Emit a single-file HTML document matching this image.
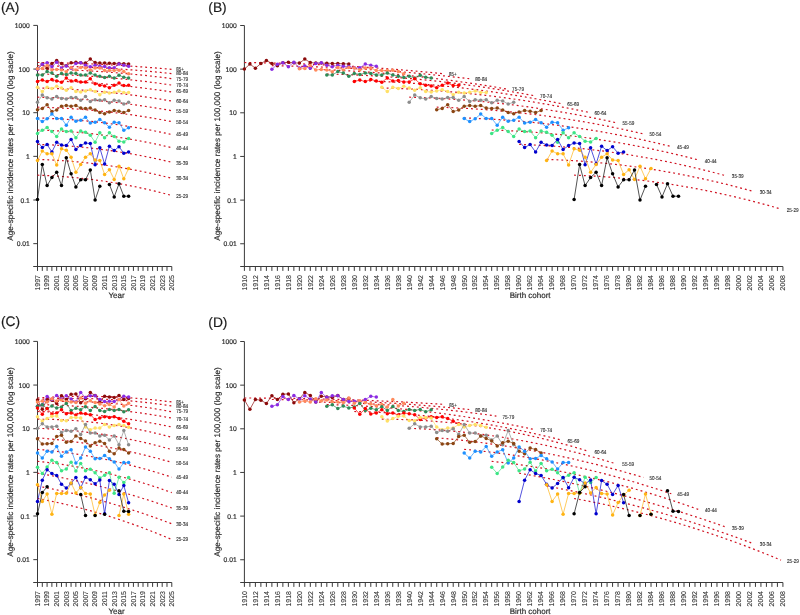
<!DOCTYPE html><html><head><meta charset="utf-8"><style>html,body{margin:0;padding:0;background:#fff;}svg{display:block;will-change:transform;} text{stroke:#2a2a2a;stroke-width:0.18px;text-rendering:geometricPrecision;}</style></head><body>
<svg width="800" height="615" viewBox="0 0 800 615" font-family='"Liberation Sans", sans-serif'>
<rect width="800" height="615" fill="#fff"/>
<text x="1" y="11.6" font-size="13.8" fill="#1a1a1a">(A)</text>
<path d="M37.5 25.4V266.5" stroke="#3a3a3a" stroke-width="1" fill="none"/>
<path d="M33.3 25.40H37.5" stroke="#3a3a3a" stroke-width="1"/>
<text x="29.8" y="27.90" font-size="6.75" text-anchor="end" fill="#2a2a2a">1000</text>
<path d="M33.3 69.05H37.5" stroke="#3a3a3a" stroke-width="1"/>
<text x="29.8" y="71.55" font-size="6.75" text-anchor="end" fill="#2a2a2a">100</text>
<path d="M33.3 112.70H37.5" stroke="#3a3a3a" stroke-width="1"/>
<text x="29.8" y="115.20" font-size="6.75" text-anchor="end" fill="#2a2a2a">10</text>
<path d="M33.3 156.35H37.5" stroke="#3a3a3a" stroke-width="1"/>
<text x="29.8" y="158.85" font-size="6.75" text-anchor="end" fill="#2a2a2a">1</text>
<path d="M33.3 200.00H37.5" stroke="#3a3a3a" stroke-width="1"/>
<text x="29.8" y="202.50" font-size="6.75" text-anchor="end" fill="#2a2a2a">0.1</text>
<path d="M33.3 243.65H37.5" stroke="#3a3a3a" stroke-width="1"/>
<text x="29.8" y="246.15" font-size="6.75" text-anchor="end" fill="#2a2a2a">0.01</text>
<path d="M33.2 266.5H171.79" stroke="#3a3a3a" stroke-width="1" fill="none"/>
<path d="M37.50 266.5v4.4M42.30 266.5v4.4M47.09 266.5v4.4M51.89 266.5v4.4M56.68 266.5v4.4M61.48 266.5v4.4M66.28 266.5v4.4M71.07 266.5v4.4M75.87 266.5v4.4M80.66 266.5v4.4M85.46 266.5v4.4M90.26 266.5v4.4M95.05 266.5v4.4M99.85 266.5v4.4M104.64 266.5v4.4M109.44 266.5v4.4M114.24 266.5v4.4M119.03 266.5v4.4M123.83 266.5v4.4M128.62 266.5v4.4M133.42 266.5v4.4M138.22 266.5v4.4M143.01 266.5v4.4M147.81 266.5v4.4M152.60 266.5v4.4M157.40 266.5v4.4M162.20 266.5v4.4M166.99 266.5v4.4M171.79 266.5v4.4" stroke="#3a3a3a" stroke-width="1" fill="none"/>
<text transform="translate(39.80,275.0) rotate(-90)" font-size="7.0" text-anchor="end" fill="#2a2a2a" style="stroke-width:0.08px">1997</text>
<text transform="translate(49.39,275.0) rotate(-90)" font-size="7.0" text-anchor="end" fill="#2a2a2a" style="stroke-width:0.08px">1999</text>
<text transform="translate(58.98,275.0) rotate(-90)" font-size="7.0" text-anchor="end" fill="#2a2a2a" style="stroke-width:0.08px">2001</text>
<text transform="translate(68.58,275.0) rotate(-90)" font-size="7.0" text-anchor="end" fill="#2a2a2a" style="stroke-width:0.08px">2003</text>
<text transform="translate(78.17,275.0) rotate(-90)" font-size="7.0" text-anchor="end" fill="#2a2a2a" style="stroke-width:0.08px">2005</text>
<text transform="translate(87.76,275.0) rotate(-90)" font-size="7.0" text-anchor="end" fill="#2a2a2a" style="stroke-width:0.08px">2007</text>
<text transform="translate(97.35,275.0) rotate(-90)" font-size="7.0" text-anchor="end" fill="#2a2a2a" style="stroke-width:0.08px">2009</text>
<text transform="translate(106.94,275.0) rotate(-90)" font-size="7.0" text-anchor="end" fill="#2a2a2a" style="stroke-width:0.08px">2011</text>
<text transform="translate(116.54,275.0) rotate(-90)" font-size="7.0" text-anchor="end" fill="#2a2a2a" style="stroke-width:0.08px">2013</text>
<text transform="translate(126.13,275.0) rotate(-90)" font-size="7.0" text-anchor="end" fill="#2a2a2a" style="stroke-width:0.08px">2015</text>
<text transform="translate(135.72,275.0) rotate(-90)" font-size="7.0" text-anchor="end" fill="#2a2a2a" style="stroke-width:0.08px">2017</text>
<text transform="translate(145.31,275.0) rotate(-90)" font-size="7.0" text-anchor="end" fill="#2a2a2a" style="stroke-width:0.08px">2019</text>
<text transform="translate(154.90,275.0) rotate(-90)" font-size="7.0" text-anchor="end" fill="#2a2a2a" style="stroke-width:0.08px">2021</text>
<text transform="translate(164.50,275.0) rotate(-90)" font-size="7.0" text-anchor="end" fill="#2a2a2a" style="stroke-width:0.08px">2023</text>
<text transform="translate(174.09,275.0) rotate(-90)" font-size="7.0" text-anchor="end" fill="#2a2a2a" style="stroke-width:0.08px">2025</text>
<text transform="translate(12.600000000000001,145.95) rotate(-90)" font-size="8.1" text-anchor="middle" textLength="189.5" lengthAdjust="spacing" fill="#2a2a2a">Age-specific incidence rates per 100,000 (log sacle)</text>
<text x="108.5" y="297.5" font-size="8" fill="#2a2a2a">Year</text>
<text x="208.3" y="11.6" font-size="13.8" fill="#1a1a1a">(B)</text>
<path d="M244.4 25.5V266.5" stroke="#3a3a3a" stroke-width="1" fill="none"/>
<path d="M240.20000000000002 25.50H244.4" stroke="#3a3a3a" stroke-width="1"/>
<text x="236.70000000000002" y="28.00" font-size="6.75" text-anchor="end" fill="#2a2a2a">1000</text>
<path d="M240.20000000000002 69.15H244.4" stroke="#3a3a3a" stroke-width="1"/>
<text x="236.70000000000002" y="71.65" font-size="6.75" text-anchor="end" fill="#2a2a2a">100</text>
<path d="M240.20000000000002 112.80H244.4" stroke="#3a3a3a" stroke-width="1"/>
<text x="236.70000000000002" y="115.30" font-size="6.75" text-anchor="end" fill="#2a2a2a">10</text>
<path d="M240.20000000000002 156.45H244.4" stroke="#3a3a3a" stroke-width="1"/>
<text x="236.70000000000002" y="158.95" font-size="6.75" text-anchor="end" fill="#2a2a2a">1</text>
<path d="M240.20000000000002 200.10H244.4" stroke="#3a3a3a" stroke-width="1"/>
<text x="236.70000000000002" y="202.60" font-size="6.75" text-anchor="end" fill="#2a2a2a">0.1</text>
<path d="M240.20000000000002 243.75H244.4" stroke="#3a3a3a" stroke-width="1"/>
<text x="236.70000000000002" y="246.25" font-size="6.75" text-anchor="end" fill="#2a2a2a">0.01</text>
<path d="M240.2 266.5H782.91" stroke="#3a3a3a" stroke-width="1" fill="none"/>
<path d="M244.40 266.5v4.4M249.90 266.5v4.4M255.39 266.5v4.4M260.88 266.5v4.4M266.38 266.5v4.4M271.88 266.5v4.4M277.37 266.5v4.4M282.87 266.5v4.4M288.36 266.5v4.4M293.86 266.5v4.4M299.35 266.5v4.4M304.85 266.5v4.4M310.34 266.5v4.4M315.84 266.5v4.4M321.33 266.5v4.4M326.82 266.5v4.4M332.32 266.5v4.4M337.81 266.5v4.4M343.31 266.5v4.4M348.81 266.5v4.4M354.30 266.5v4.4M359.80 266.5v4.4M365.29 266.5v4.4M370.79 266.5v4.4M376.28 266.5v4.4M381.77 266.5v4.4M387.27 266.5v4.4M392.76 266.5v4.4M398.26 266.5v4.4M403.75 266.5v4.4M409.25 266.5v4.4M414.75 266.5v4.4M420.24 266.5v4.4M425.74 266.5v4.4M431.23 266.5v4.4M436.73 266.5v4.4M442.22 266.5v4.4M447.72 266.5v4.4M453.21 266.5v4.4M458.71 266.5v4.4M464.20 266.5v4.4M469.70 266.5v4.4M475.19 266.5v4.4M480.69 266.5v4.4M486.18 266.5v4.4M491.68 266.5v4.4M497.17 266.5v4.4M502.66 266.5v4.4M508.16 266.5v4.4M513.65 266.5v4.4M519.15 266.5v4.4M524.64 266.5v4.4M530.14 266.5v4.4M535.63 266.5v4.4M541.13 266.5v4.4M546.62 266.5v4.4M552.12 266.5v4.4M557.62 266.5v4.4M563.11 266.5v4.4M568.61 266.5v4.4M574.10 266.5v4.4M579.60 266.5v4.4M585.09 266.5v4.4M590.59 266.5v4.4M596.08 266.5v4.4M601.58 266.5v4.4M607.07 266.5v4.4M612.57 266.5v4.4M618.06 266.5v4.4M623.56 266.5v4.4M629.05 266.5v4.4M634.54 266.5v4.4M640.04 266.5v4.4M645.53 266.5v4.4M651.03 266.5v4.4M656.52 266.5v4.4M662.02 266.5v4.4M667.51 266.5v4.4M673.01 266.5v4.4M678.50 266.5v4.4M684.00 266.5v4.4M689.50 266.5v4.4M694.99 266.5v4.4M700.49 266.5v4.4M705.98 266.5v4.4M711.48 266.5v4.4M716.97 266.5v4.4M722.47 266.5v4.4M727.96 266.5v4.4M733.46 266.5v4.4M738.95 266.5v4.4M744.45 266.5v4.4M749.94 266.5v4.4M755.44 266.5v4.4M760.93 266.5v4.4M766.42 266.5v4.4M771.92 266.5v4.4M777.41 266.5v4.4M782.91 266.5v4.4" stroke="#3a3a3a" stroke-width="1" fill="none"/>
<text transform="translate(246.70,275.0) rotate(-90)" font-size="7.0" text-anchor="end" fill="#2a2a2a" style="stroke-width:0.08px">1910</text>
<text transform="translate(257.69,275.0) rotate(-90)" font-size="7.0" text-anchor="end" fill="#2a2a2a" style="stroke-width:0.08px">1912</text>
<text transform="translate(268.68,275.0) rotate(-90)" font-size="7.0" text-anchor="end" fill="#2a2a2a" style="stroke-width:0.08px">1914</text>
<text transform="translate(279.67,275.0) rotate(-90)" font-size="7.0" text-anchor="end" fill="#2a2a2a" style="stroke-width:0.08px">1916</text>
<text transform="translate(290.66,275.0) rotate(-90)" font-size="7.0" text-anchor="end" fill="#2a2a2a" style="stroke-width:0.08px">1918</text>
<text transform="translate(301.65,275.0) rotate(-90)" font-size="7.0" text-anchor="end" fill="#2a2a2a" style="stroke-width:0.08px">1920</text>
<text transform="translate(312.64,275.0) rotate(-90)" font-size="7.0" text-anchor="end" fill="#2a2a2a" style="stroke-width:0.08px">1922</text>
<text transform="translate(323.63,275.0) rotate(-90)" font-size="7.0" text-anchor="end" fill="#2a2a2a" style="stroke-width:0.08px">1924</text>
<text transform="translate(334.62,275.0) rotate(-90)" font-size="7.0" text-anchor="end" fill="#2a2a2a" style="stroke-width:0.08px">1926</text>
<text transform="translate(345.61,275.0) rotate(-90)" font-size="7.0" text-anchor="end" fill="#2a2a2a" style="stroke-width:0.08px">1928</text>
<text transform="translate(356.60,275.0) rotate(-90)" font-size="7.0" text-anchor="end" fill="#2a2a2a" style="stroke-width:0.08px">1930</text>
<text transform="translate(367.59,275.0) rotate(-90)" font-size="7.0" text-anchor="end" fill="#2a2a2a" style="stroke-width:0.08px">1932</text>
<text transform="translate(378.58,275.0) rotate(-90)" font-size="7.0" text-anchor="end" fill="#2a2a2a" style="stroke-width:0.08px">1934</text>
<text transform="translate(389.57,275.0) rotate(-90)" font-size="7.0" text-anchor="end" fill="#2a2a2a" style="stroke-width:0.08px">1936</text>
<text transform="translate(400.56,275.0) rotate(-90)" font-size="7.0" text-anchor="end" fill="#2a2a2a" style="stroke-width:0.08px">1938</text>
<text transform="translate(411.55,275.0) rotate(-90)" font-size="7.0" text-anchor="end" fill="#2a2a2a" style="stroke-width:0.08px">1940</text>
<text transform="translate(422.54,275.0) rotate(-90)" font-size="7.0" text-anchor="end" fill="#2a2a2a" style="stroke-width:0.08px">1942</text>
<text transform="translate(433.53,275.0) rotate(-90)" font-size="7.0" text-anchor="end" fill="#2a2a2a" style="stroke-width:0.08px">1944</text>
<text transform="translate(444.52,275.0) rotate(-90)" font-size="7.0" text-anchor="end" fill="#2a2a2a" style="stroke-width:0.08px">1946</text>
<text transform="translate(455.51,275.0) rotate(-90)" font-size="7.0" text-anchor="end" fill="#2a2a2a" style="stroke-width:0.08px">1948</text>
<text transform="translate(466.50,275.0) rotate(-90)" font-size="7.0" text-anchor="end" fill="#2a2a2a" style="stroke-width:0.08px">1950</text>
<text transform="translate(477.49,275.0) rotate(-90)" font-size="7.0" text-anchor="end" fill="#2a2a2a" style="stroke-width:0.08px">1952</text>
<text transform="translate(488.48,275.0) rotate(-90)" font-size="7.0" text-anchor="end" fill="#2a2a2a" style="stroke-width:0.08px">1954</text>
<text transform="translate(499.47,275.0) rotate(-90)" font-size="7.0" text-anchor="end" fill="#2a2a2a" style="stroke-width:0.08px">1956</text>
<text transform="translate(510.46,275.0) rotate(-90)" font-size="7.0" text-anchor="end" fill="#2a2a2a" style="stroke-width:0.08px">1958</text>
<text transform="translate(521.45,275.0) rotate(-90)" font-size="7.0" text-anchor="end" fill="#2a2a2a" style="stroke-width:0.08px">1960</text>
<text transform="translate(532.44,275.0) rotate(-90)" font-size="7.0" text-anchor="end" fill="#2a2a2a" style="stroke-width:0.08px">1962</text>
<text transform="translate(543.43,275.0) rotate(-90)" font-size="7.0" text-anchor="end" fill="#2a2a2a" style="stroke-width:0.08px">1964</text>
<text transform="translate(554.42,275.0) rotate(-90)" font-size="7.0" text-anchor="end" fill="#2a2a2a" style="stroke-width:0.08px">1966</text>
<text transform="translate(565.41,275.0) rotate(-90)" font-size="7.0" text-anchor="end" fill="#2a2a2a" style="stroke-width:0.08px">1968</text>
<text transform="translate(576.40,275.0) rotate(-90)" font-size="7.0" text-anchor="end" fill="#2a2a2a" style="stroke-width:0.08px">1970</text>
<text transform="translate(587.39,275.0) rotate(-90)" font-size="7.0" text-anchor="end" fill="#2a2a2a" style="stroke-width:0.08px">1972</text>
<text transform="translate(598.38,275.0) rotate(-90)" font-size="7.0" text-anchor="end" fill="#2a2a2a" style="stroke-width:0.08px">1974</text>
<text transform="translate(609.37,275.0) rotate(-90)" font-size="7.0" text-anchor="end" fill="#2a2a2a" style="stroke-width:0.08px">1976</text>
<text transform="translate(620.36,275.0) rotate(-90)" font-size="7.0" text-anchor="end" fill="#2a2a2a" style="stroke-width:0.08px">1978</text>
<text transform="translate(631.35,275.0) rotate(-90)" font-size="7.0" text-anchor="end" fill="#2a2a2a" style="stroke-width:0.08px">1980</text>
<text transform="translate(642.34,275.0) rotate(-90)" font-size="7.0" text-anchor="end" fill="#2a2a2a" style="stroke-width:0.08px">1982</text>
<text transform="translate(653.33,275.0) rotate(-90)" font-size="7.0" text-anchor="end" fill="#2a2a2a" style="stroke-width:0.08px">1984</text>
<text transform="translate(664.32,275.0) rotate(-90)" font-size="7.0" text-anchor="end" fill="#2a2a2a" style="stroke-width:0.08px">1986</text>
<text transform="translate(675.31,275.0) rotate(-90)" font-size="7.0" text-anchor="end" fill="#2a2a2a" style="stroke-width:0.08px">1988</text>
<text transform="translate(686.30,275.0) rotate(-90)" font-size="7.0" text-anchor="end" fill="#2a2a2a" style="stroke-width:0.08px">1990</text>
<text transform="translate(697.29,275.0) rotate(-90)" font-size="7.0" text-anchor="end" fill="#2a2a2a" style="stroke-width:0.08px">1992</text>
<text transform="translate(708.28,275.0) rotate(-90)" font-size="7.0" text-anchor="end" fill="#2a2a2a" style="stroke-width:0.08px">1994</text>
<text transform="translate(719.27,275.0) rotate(-90)" font-size="7.0" text-anchor="end" fill="#2a2a2a" style="stroke-width:0.08px">1996</text>
<text transform="translate(730.26,275.0) rotate(-90)" font-size="7.0" text-anchor="end" fill="#2a2a2a" style="stroke-width:0.08px">1998</text>
<text transform="translate(741.25,275.0) rotate(-90)" font-size="7.0" text-anchor="end" fill="#2a2a2a" style="stroke-width:0.08px">2000</text>
<text transform="translate(752.24,275.0) rotate(-90)" font-size="7.0" text-anchor="end" fill="#2a2a2a" style="stroke-width:0.08px">2002</text>
<text transform="translate(763.23,275.0) rotate(-90)" font-size="7.0" text-anchor="end" fill="#2a2a2a" style="stroke-width:0.08px">2004</text>
<text transform="translate(774.22,275.0) rotate(-90)" font-size="7.0" text-anchor="end" fill="#2a2a2a" style="stroke-width:0.08px">2006</text>
<text transform="translate(785.21,275.0) rotate(-90)" font-size="7.0" text-anchor="end" fill="#2a2a2a" style="stroke-width:0.08px">2008</text>
<text transform="translate(219.5,146.00) rotate(-90)" font-size="8.1" text-anchor="middle" textLength="189.5" lengthAdjust="spacing" fill="#2a2a2a">Age-specific incidence rates per 100,000 (log scale)</text>
<text x="509.7" y="297.5" font-size="8" fill="#2a2a2a">Birth cohort</text>
<text x="1" y="326.3" font-size="13.8" fill="#1a1a1a">(C)</text>
<path d="M37.5 341.4V582.5" stroke="#3a3a3a" stroke-width="1" fill="none"/>
<path d="M33.3 341.40H37.5" stroke="#3a3a3a" stroke-width="1"/>
<text x="29.8" y="343.90" font-size="6.75" text-anchor="end" fill="#2a2a2a">1000</text>
<path d="M33.3 385.05H37.5" stroke="#3a3a3a" stroke-width="1"/>
<text x="29.8" y="387.55" font-size="6.75" text-anchor="end" fill="#2a2a2a">100</text>
<path d="M33.3 428.70H37.5" stroke="#3a3a3a" stroke-width="1"/>
<text x="29.8" y="431.20" font-size="6.75" text-anchor="end" fill="#2a2a2a">10</text>
<path d="M33.3 472.35H37.5" stroke="#3a3a3a" stroke-width="1"/>
<text x="29.8" y="474.85" font-size="6.75" text-anchor="end" fill="#2a2a2a">1</text>
<path d="M33.3 516.00H37.5" stroke="#3a3a3a" stroke-width="1"/>
<text x="29.8" y="518.50" font-size="6.75" text-anchor="end" fill="#2a2a2a">0.1</text>
<path d="M33.3 559.65H37.5" stroke="#3a3a3a" stroke-width="1"/>
<text x="29.8" y="562.15" font-size="6.75" text-anchor="end" fill="#2a2a2a">0.01</text>
<path d="M33.2 582.5H171.79" stroke="#3a3a3a" stroke-width="1" fill="none"/>
<path d="M37.50 582.5v4.4M42.30 582.5v4.4M47.09 582.5v4.4M51.89 582.5v4.4M56.68 582.5v4.4M61.48 582.5v4.4M66.28 582.5v4.4M71.07 582.5v4.4M75.87 582.5v4.4M80.66 582.5v4.4M85.46 582.5v4.4M90.26 582.5v4.4M95.05 582.5v4.4M99.85 582.5v4.4M104.64 582.5v4.4M109.44 582.5v4.4M114.24 582.5v4.4M119.03 582.5v4.4M123.83 582.5v4.4M128.62 582.5v4.4M133.42 582.5v4.4M138.22 582.5v4.4M143.01 582.5v4.4M147.81 582.5v4.4M152.60 582.5v4.4M157.40 582.5v4.4M162.20 582.5v4.4M166.99 582.5v4.4M171.79 582.5v4.4" stroke="#3a3a3a" stroke-width="1" fill="none"/>
<text transform="translate(39.80,591.0) rotate(-90)" font-size="7.0" text-anchor="end" fill="#2a2a2a" style="stroke-width:0.08px">1997</text>
<text transform="translate(49.39,591.0) rotate(-90)" font-size="7.0" text-anchor="end" fill="#2a2a2a" style="stroke-width:0.08px">1999</text>
<text transform="translate(58.98,591.0) rotate(-90)" font-size="7.0" text-anchor="end" fill="#2a2a2a" style="stroke-width:0.08px">2001</text>
<text transform="translate(68.58,591.0) rotate(-90)" font-size="7.0" text-anchor="end" fill="#2a2a2a" style="stroke-width:0.08px">2003</text>
<text transform="translate(78.17,591.0) rotate(-90)" font-size="7.0" text-anchor="end" fill="#2a2a2a" style="stroke-width:0.08px">2005</text>
<text transform="translate(87.76,591.0) rotate(-90)" font-size="7.0" text-anchor="end" fill="#2a2a2a" style="stroke-width:0.08px">2007</text>
<text transform="translate(97.35,591.0) rotate(-90)" font-size="7.0" text-anchor="end" fill="#2a2a2a" style="stroke-width:0.08px">2009</text>
<text transform="translate(106.94,591.0) rotate(-90)" font-size="7.0" text-anchor="end" fill="#2a2a2a" style="stroke-width:0.08px">2011</text>
<text transform="translate(116.54,591.0) rotate(-90)" font-size="7.0" text-anchor="end" fill="#2a2a2a" style="stroke-width:0.08px">2013</text>
<text transform="translate(126.13,591.0) rotate(-90)" font-size="7.0" text-anchor="end" fill="#2a2a2a" style="stroke-width:0.08px">2015</text>
<text transform="translate(135.72,591.0) rotate(-90)" font-size="7.0" text-anchor="end" fill="#2a2a2a" style="stroke-width:0.08px">2017</text>
<text transform="translate(145.31,591.0) rotate(-90)" font-size="7.0" text-anchor="end" fill="#2a2a2a" style="stroke-width:0.08px">2019</text>
<text transform="translate(154.90,591.0) rotate(-90)" font-size="7.0" text-anchor="end" fill="#2a2a2a" style="stroke-width:0.08px">2021</text>
<text transform="translate(164.50,591.0) rotate(-90)" font-size="7.0" text-anchor="end" fill="#2a2a2a" style="stroke-width:0.08px">2023</text>
<text transform="translate(174.09,591.0) rotate(-90)" font-size="7.0" text-anchor="end" fill="#2a2a2a" style="stroke-width:0.08px">2025</text>
<text transform="translate(12.600000000000001,461.95) rotate(-90)" font-size="8.1" text-anchor="middle" textLength="189.5" lengthAdjust="spacing" fill="#2a2a2a">Age-specific incidence rates per 100,000 (log scale)</text>
<text x="108.5" y="613.5" font-size="8" fill="#2a2a2a">Year</text>
<text x="208.3" y="326.5" font-size="13.8" fill="#1a1a1a">(D)</text>
<path d="M244.4 341.5V582.5" stroke="#3a3a3a" stroke-width="1" fill="none"/>
<path d="M240.20000000000002 341.50H244.4" stroke="#3a3a3a" stroke-width="1"/>
<text x="236.70000000000002" y="344.00" font-size="6.75" text-anchor="end" fill="#2a2a2a">1000</text>
<path d="M240.20000000000002 385.15H244.4" stroke="#3a3a3a" stroke-width="1"/>
<text x="236.70000000000002" y="387.65" font-size="6.75" text-anchor="end" fill="#2a2a2a">100</text>
<path d="M240.20000000000002 428.80H244.4" stroke="#3a3a3a" stroke-width="1"/>
<text x="236.70000000000002" y="431.30" font-size="6.75" text-anchor="end" fill="#2a2a2a">10</text>
<path d="M240.20000000000002 472.45H244.4" stroke="#3a3a3a" stroke-width="1"/>
<text x="236.70000000000002" y="474.95" font-size="6.75" text-anchor="end" fill="#2a2a2a">1</text>
<path d="M240.20000000000002 516.10H244.4" stroke="#3a3a3a" stroke-width="1"/>
<text x="236.70000000000002" y="518.60" font-size="6.75" text-anchor="end" fill="#2a2a2a">0.1</text>
<path d="M240.20000000000002 559.75H244.4" stroke="#3a3a3a" stroke-width="1"/>
<text x="236.70000000000002" y="562.25" font-size="6.75" text-anchor="end" fill="#2a2a2a">0.01</text>
<path d="M240.2 582.5H782.91" stroke="#3a3a3a" stroke-width="1" fill="none"/>
<path d="M244.40 582.5v4.4M249.90 582.5v4.4M255.39 582.5v4.4M260.88 582.5v4.4M266.38 582.5v4.4M271.88 582.5v4.4M277.37 582.5v4.4M282.87 582.5v4.4M288.36 582.5v4.4M293.86 582.5v4.4M299.35 582.5v4.4M304.85 582.5v4.4M310.34 582.5v4.4M315.84 582.5v4.4M321.33 582.5v4.4M326.82 582.5v4.4M332.32 582.5v4.4M337.81 582.5v4.4M343.31 582.5v4.4M348.81 582.5v4.4M354.30 582.5v4.4M359.80 582.5v4.4M365.29 582.5v4.4M370.79 582.5v4.4M376.28 582.5v4.4M381.77 582.5v4.4M387.27 582.5v4.4M392.76 582.5v4.4M398.26 582.5v4.4M403.75 582.5v4.4M409.25 582.5v4.4M414.75 582.5v4.4M420.24 582.5v4.4M425.74 582.5v4.4M431.23 582.5v4.4M436.73 582.5v4.4M442.22 582.5v4.4M447.72 582.5v4.4M453.21 582.5v4.4M458.71 582.5v4.4M464.20 582.5v4.4M469.70 582.5v4.4M475.19 582.5v4.4M480.69 582.5v4.4M486.18 582.5v4.4M491.68 582.5v4.4M497.17 582.5v4.4M502.66 582.5v4.4M508.16 582.5v4.4M513.65 582.5v4.4M519.15 582.5v4.4M524.64 582.5v4.4M530.14 582.5v4.4M535.63 582.5v4.4M541.13 582.5v4.4M546.62 582.5v4.4M552.12 582.5v4.4M557.62 582.5v4.4M563.11 582.5v4.4M568.61 582.5v4.4M574.10 582.5v4.4M579.60 582.5v4.4M585.09 582.5v4.4M590.59 582.5v4.4M596.08 582.5v4.4M601.58 582.5v4.4M607.07 582.5v4.4M612.57 582.5v4.4M618.06 582.5v4.4M623.56 582.5v4.4M629.05 582.5v4.4M634.54 582.5v4.4M640.04 582.5v4.4M645.53 582.5v4.4M651.03 582.5v4.4M656.52 582.5v4.4M662.02 582.5v4.4M667.51 582.5v4.4M673.01 582.5v4.4M678.50 582.5v4.4M684.00 582.5v4.4M689.50 582.5v4.4M694.99 582.5v4.4M700.49 582.5v4.4M705.98 582.5v4.4M711.48 582.5v4.4M716.97 582.5v4.4M722.47 582.5v4.4M727.96 582.5v4.4M733.46 582.5v4.4M738.95 582.5v4.4M744.45 582.5v4.4M749.94 582.5v4.4M755.44 582.5v4.4M760.93 582.5v4.4M766.42 582.5v4.4M771.92 582.5v4.4M777.41 582.5v4.4M782.91 582.5v4.4" stroke="#3a3a3a" stroke-width="1" fill="none"/>
<text transform="translate(246.70,591.0) rotate(-90)" font-size="7.0" text-anchor="end" fill="#2a2a2a" style="stroke-width:0.08px">1910</text>
<text transform="translate(257.69,591.0) rotate(-90)" font-size="7.0" text-anchor="end" fill="#2a2a2a" style="stroke-width:0.08px">1912</text>
<text transform="translate(268.68,591.0) rotate(-90)" font-size="7.0" text-anchor="end" fill="#2a2a2a" style="stroke-width:0.08px">1914</text>
<text transform="translate(279.67,591.0) rotate(-90)" font-size="7.0" text-anchor="end" fill="#2a2a2a" style="stroke-width:0.08px">1916</text>
<text transform="translate(290.66,591.0) rotate(-90)" font-size="7.0" text-anchor="end" fill="#2a2a2a" style="stroke-width:0.08px">1918</text>
<text transform="translate(301.65,591.0) rotate(-90)" font-size="7.0" text-anchor="end" fill="#2a2a2a" style="stroke-width:0.08px">1920</text>
<text transform="translate(312.64,591.0) rotate(-90)" font-size="7.0" text-anchor="end" fill="#2a2a2a" style="stroke-width:0.08px">1922</text>
<text transform="translate(323.63,591.0) rotate(-90)" font-size="7.0" text-anchor="end" fill="#2a2a2a" style="stroke-width:0.08px">1924</text>
<text transform="translate(334.62,591.0) rotate(-90)" font-size="7.0" text-anchor="end" fill="#2a2a2a" style="stroke-width:0.08px">1926</text>
<text transform="translate(345.61,591.0) rotate(-90)" font-size="7.0" text-anchor="end" fill="#2a2a2a" style="stroke-width:0.08px">1928</text>
<text transform="translate(356.60,591.0) rotate(-90)" font-size="7.0" text-anchor="end" fill="#2a2a2a" style="stroke-width:0.08px">1930</text>
<text transform="translate(367.59,591.0) rotate(-90)" font-size="7.0" text-anchor="end" fill="#2a2a2a" style="stroke-width:0.08px">1932</text>
<text transform="translate(378.58,591.0) rotate(-90)" font-size="7.0" text-anchor="end" fill="#2a2a2a" style="stroke-width:0.08px">1934</text>
<text transform="translate(389.57,591.0) rotate(-90)" font-size="7.0" text-anchor="end" fill="#2a2a2a" style="stroke-width:0.08px">1936</text>
<text transform="translate(400.56,591.0) rotate(-90)" font-size="7.0" text-anchor="end" fill="#2a2a2a" style="stroke-width:0.08px">1938</text>
<text transform="translate(411.55,591.0) rotate(-90)" font-size="7.0" text-anchor="end" fill="#2a2a2a" style="stroke-width:0.08px">1940</text>
<text transform="translate(422.54,591.0) rotate(-90)" font-size="7.0" text-anchor="end" fill="#2a2a2a" style="stroke-width:0.08px">1942</text>
<text transform="translate(433.53,591.0) rotate(-90)" font-size="7.0" text-anchor="end" fill="#2a2a2a" style="stroke-width:0.08px">1944</text>
<text transform="translate(444.52,591.0) rotate(-90)" font-size="7.0" text-anchor="end" fill="#2a2a2a" style="stroke-width:0.08px">1946</text>
<text transform="translate(455.51,591.0) rotate(-90)" font-size="7.0" text-anchor="end" fill="#2a2a2a" style="stroke-width:0.08px">1948</text>
<text transform="translate(466.50,591.0) rotate(-90)" font-size="7.0" text-anchor="end" fill="#2a2a2a" style="stroke-width:0.08px">1950</text>
<text transform="translate(477.49,591.0) rotate(-90)" font-size="7.0" text-anchor="end" fill="#2a2a2a" style="stroke-width:0.08px">1952</text>
<text transform="translate(488.48,591.0) rotate(-90)" font-size="7.0" text-anchor="end" fill="#2a2a2a" style="stroke-width:0.08px">1954</text>
<text transform="translate(499.47,591.0) rotate(-90)" font-size="7.0" text-anchor="end" fill="#2a2a2a" style="stroke-width:0.08px">1956</text>
<text transform="translate(510.46,591.0) rotate(-90)" font-size="7.0" text-anchor="end" fill="#2a2a2a" style="stroke-width:0.08px">1958</text>
<text transform="translate(521.45,591.0) rotate(-90)" font-size="7.0" text-anchor="end" fill="#2a2a2a" style="stroke-width:0.08px">1960</text>
<text transform="translate(532.44,591.0) rotate(-90)" font-size="7.0" text-anchor="end" fill="#2a2a2a" style="stroke-width:0.08px">1962</text>
<text transform="translate(543.43,591.0) rotate(-90)" font-size="7.0" text-anchor="end" fill="#2a2a2a" style="stroke-width:0.08px">1964</text>
<text transform="translate(554.42,591.0) rotate(-90)" font-size="7.0" text-anchor="end" fill="#2a2a2a" style="stroke-width:0.08px">1966</text>
<text transform="translate(565.41,591.0) rotate(-90)" font-size="7.0" text-anchor="end" fill="#2a2a2a" style="stroke-width:0.08px">1968</text>
<text transform="translate(576.40,591.0) rotate(-90)" font-size="7.0" text-anchor="end" fill="#2a2a2a" style="stroke-width:0.08px">1970</text>
<text transform="translate(587.39,591.0) rotate(-90)" font-size="7.0" text-anchor="end" fill="#2a2a2a" style="stroke-width:0.08px">1972</text>
<text transform="translate(598.38,591.0) rotate(-90)" font-size="7.0" text-anchor="end" fill="#2a2a2a" style="stroke-width:0.08px">1974</text>
<text transform="translate(609.37,591.0) rotate(-90)" font-size="7.0" text-anchor="end" fill="#2a2a2a" style="stroke-width:0.08px">1976</text>
<text transform="translate(620.36,591.0) rotate(-90)" font-size="7.0" text-anchor="end" fill="#2a2a2a" style="stroke-width:0.08px">1978</text>
<text transform="translate(631.35,591.0) rotate(-90)" font-size="7.0" text-anchor="end" fill="#2a2a2a" style="stroke-width:0.08px">1980</text>
<text transform="translate(642.34,591.0) rotate(-90)" font-size="7.0" text-anchor="end" fill="#2a2a2a" style="stroke-width:0.08px">1982</text>
<text transform="translate(653.33,591.0) rotate(-90)" font-size="7.0" text-anchor="end" fill="#2a2a2a" style="stroke-width:0.08px">1984</text>
<text transform="translate(664.32,591.0) rotate(-90)" font-size="7.0" text-anchor="end" fill="#2a2a2a" style="stroke-width:0.08px">1986</text>
<text transform="translate(675.31,591.0) rotate(-90)" font-size="7.0" text-anchor="end" fill="#2a2a2a" style="stroke-width:0.08px">1988</text>
<text transform="translate(686.30,591.0) rotate(-90)" font-size="7.0" text-anchor="end" fill="#2a2a2a" style="stroke-width:0.08px">1990</text>
<text transform="translate(697.29,591.0) rotate(-90)" font-size="7.0" text-anchor="end" fill="#2a2a2a" style="stroke-width:0.08px">1992</text>
<text transform="translate(708.28,591.0) rotate(-90)" font-size="7.0" text-anchor="end" fill="#2a2a2a" style="stroke-width:0.08px">1994</text>
<text transform="translate(719.27,591.0) rotate(-90)" font-size="7.0" text-anchor="end" fill="#2a2a2a" style="stroke-width:0.08px">1996</text>
<text transform="translate(730.26,591.0) rotate(-90)" font-size="7.0" text-anchor="end" fill="#2a2a2a" style="stroke-width:0.08px">1998</text>
<text transform="translate(741.25,591.0) rotate(-90)" font-size="7.0" text-anchor="end" fill="#2a2a2a" style="stroke-width:0.08px">2000</text>
<text transform="translate(752.24,591.0) rotate(-90)" font-size="7.0" text-anchor="end" fill="#2a2a2a" style="stroke-width:0.08px">2002</text>
<text transform="translate(763.23,591.0) rotate(-90)" font-size="7.0" text-anchor="end" fill="#2a2a2a" style="stroke-width:0.08px">2004</text>
<text transform="translate(774.22,591.0) rotate(-90)" font-size="7.0" text-anchor="end" fill="#2a2a2a" style="stroke-width:0.08px">2006</text>
<text transform="translate(785.21,591.0) rotate(-90)" font-size="7.0" text-anchor="end" fill="#2a2a2a" style="stroke-width:0.08px">2008</text>
<text transform="translate(219.5,462.00) rotate(-90)" font-size="8.1" text-anchor="middle" textLength="189.5" lengthAdjust="spacing" fill="#2a2a2a">Age-specific incidence rates per 100,000 (log scale)</text>
<text x="509.7" y="613.5" font-size="8" fill="#2a2a2a">Birth cohort</text>
<path d="M37.50 62.50L43.10 62.57L48.69 62.65L54.29 62.76L59.88 62.88L65.48 63.03L71.08 63.19L76.67 63.37L82.27 63.57L87.86 63.79L93.46 64.03L99.05 64.29L104.65 64.57L110.25 64.87L115.84 65.18L121.44 65.52L127.03 65.87L132.63 66.25L138.23 66.64L143.82 67.05L149.42 67.48L155.01 67.93L160.61 68.40L166.20 68.89L171.80 69.40" stroke="#d0101f" stroke-width="1.2" stroke-dasharray="1.9 3.0" fill="none"/>
<path d="M37.50 65.70L43.10 65.78L48.69 65.88L54.29 66.00L59.88 66.14L65.48 66.30L71.08 66.49L76.67 66.70L82.27 66.93L87.86 67.18L93.46 67.46L99.05 67.75L104.65 68.07L110.25 68.41L115.84 68.77L121.44 69.16L127.03 69.56L132.63 69.99L138.23 70.44L143.82 70.91L149.42 71.41L155.01 71.92L160.61 72.46L166.20 73.02L171.80 73.60" stroke="#d0101f" stroke-width="1.2" stroke-dasharray="1.9 3.0" fill="none"/>
<path d="M37.50 69.00L43.10 69.09L48.69 69.21L54.29 69.36L59.88 69.53L65.48 69.73L71.08 69.96L76.67 70.21L82.27 70.49L87.86 70.80L93.46 71.13L99.05 71.49L104.65 71.88L110.25 72.29L115.84 72.73L121.44 73.20L127.03 73.69L132.63 74.21L138.23 74.76L143.82 75.33L149.42 75.93L155.01 76.56L160.61 77.21L166.20 77.89L171.80 78.60" stroke="#d0101f" stroke-width="1.2" stroke-dasharray="1.9 3.0" fill="none"/>
<path d="M37.50 74.00L43.10 74.11L48.69 74.25L54.29 74.42L59.88 74.62L65.48 74.85L71.08 75.11L76.67 75.40L82.27 75.73L87.86 76.08L93.46 76.47L99.05 76.88L104.65 77.33L110.25 77.81L115.84 78.32L121.44 78.86L127.03 79.43L132.63 80.03L138.23 80.66L143.82 81.32L149.42 82.02L155.01 82.74L160.61 83.50L166.20 84.28L171.80 85.10" stroke="#d0101f" stroke-width="1.2" stroke-dasharray="1.9 3.0" fill="none"/>
<path d="M37.50 80.50L43.10 80.61L48.69 80.76L54.29 80.93L59.88 81.14L65.48 81.38L71.08 81.65L76.67 81.95L82.27 82.29L87.86 82.66L93.46 83.06L99.05 83.49L104.65 83.95L110.25 84.45L115.84 84.97L121.44 85.53L127.03 86.12L132.63 86.75L138.23 87.40L143.82 88.09L149.42 88.81L155.01 89.56L160.61 90.34L166.20 91.15L171.80 92.00" stroke="#d0101f" stroke-width="1.2" stroke-dasharray="1.9 3.0" fill="none"/>
<path d="M37.50 88.00L43.10 88.13L48.69 88.29L54.29 88.49L59.88 88.73L65.48 89.00L71.08 89.31L76.67 89.66L82.27 90.04L87.86 90.46L93.46 90.91L99.05 91.40L104.65 91.93L110.25 92.49L115.84 93.09L121.44 93.73L127.03 94.40L132.63 95.11L138.23 95.86L143.82 96.64L149.42 97.46L155.01 98.32L160.61 99.21L166.20 100.14L171.80 101.10" stroke="#d0101f" stroke-width="1.2" stroke-dasharray="1.9 3.0" fill="none"/>
<path d="M37.50 97.20L43.10 97.33L48.69 97.50L54.29 97.71L59.88 97.95L65.48 98.23L71.08 98.55L76.67 98.91L82.27 99.30L87.86 99.73L93.46 100.20L99.05 100.71L104.65 101.25L110.25 101.83L115.84 102.45L121.44 103.11L127.03 103.80L132.63 104.53L138.23 105.30L143.82 106.11L149.42 106.95L155.01 107.83L160.61 108.75L166.20 109.71L171.80 110.70" stroke="#d0101f" stroke-width="1.2" stroke-dasharray="1.9 3.0" fill="none"/>
<path d="M37.50 107.20L43.10 107.34L48.69 107.52L54.29 107.74L59.88 108.00L65.48 108.30L71.08 108.64L76.67 109.02L82.27 109.44L87.86 109.90L93.46 110.40L99.05 110.94L104.65 111.52L110.25 112.14L115.84 112.80L121.44 113.50L127.03 114.24L132.63 115.02L138.23 115.84L143.82 116.70L149.42 117.60L155.01 118.54L160.61 119.52L166.20 120.54L171.80 121.60" stroke="#d0101f" stroke-width="1.2" stroke-dasharray="1.9 3.0" fill="none"/>
<path d="M37.50 118.00L43.10 118.16L48.69 118.37L54.29 118.62L59.88 118.92L65.48 119.26L71.08 119.65L76.67 120.09L82.27 120.57L87.86 121.09L93.46 121.67L99.05 122.29L104.65 122.95L110.25 123.66L115.84 124.42L121.44 125.22L127.03 126.07L132.63 126.96L138.23 127.90L143.82 128.89L149.42 129.92L155.01 130.99L160.61 132.12L166.20 133.29L171.80 134.50" stroke="#d0101f" stroke-width="1.2" stroke-dasharray="1.9 3.0" fill="none"/>
<path d="M37.50 130.00L43.10 130.17L48.69 130.39L54.29 130.66L59.88 130.98L65.48 131.35L71.08 131.77L76.67 132.24L82.27 132.75L87.86 133.32L93.46 133.93L99.05 134.60L104.65 135.31L110.25 136.07L115.84 136.88L121.44 137.74L127.03 138.65L132.63 139.61L138.23 140.62L143.82 141.68L149.42 142.78L155.01 143.94L160.61 145.14L166.20 146.40L171.80 147.70" stroke="#d0101f" stroke-width="1.2" stroke-dasharray="1.9 3.0" fill="none"/>
<path d="M37.50 144.40L43.10 144.57L48.69 144.80L54.29 145.07L59.88 145.39L65.48 145.77L71.08 146.19L76.67 146.66L82.27 147.18L87.86 147.76L93.46 148.38L99.05 149.05L104.65 149.77L110.25 150.54L115.84 151.36L121.44 152.23L127.03 153.15L132.63 154.12L138.23 155.14L143.82 156.21L149.42 157.33L155.01 158.50L160.61 159.71L166.20 160.98L171.80 162.30" stroke="#d0101f" stroke-width="1.2" stroke-dasharray="1.9 3.0" fill="none"/>
<path d="M37.50 159.40L43.10 159.58L48.69 159.82L54.29 160.11L59.88 160.45L65.48 160.84L71.08 161.29L76.67 161.79L82.27 162.34L87.86 162.94L93.46 163.60L99.05 164.31L104.65 165.07L110.25 165.88L115.84 166.75L121.44 167.67L127.03 168.64L132.63 169.66L138.23 170.74L143.82 171.87L149.42 173.05L155.01 174.28L160.61 175.57L166.20 176.91L171.80 178.30" stroke="#d0101f" stroke-width="1.2" stroke-dasharray="1.9 3.0" fill="none"/>
<path d="M37.50 175.20L43.10 175.40L48.69 175.65L54.29 175.96L59.88 176.33L65.48 176.75L71.08 177.23L76.67 177.77L82.27 178.36L87.86 179.01L93.46 179.71L99.05 180.47L104.65 181.29L110.25 182.16L115.84 183.09L121.44 184.08L127.03 185.12L132.63 186.22L138.23 187.38L143.82 188.59L149.42 189.86L155.01 191.19L160.61 192.57L166.20 194.01L171.80 195.50" stroke="#d0101f" stroke-width="1.2" stroke-dasharray="1.9 3.0" fill="none"/>
<text x="176.2" y="71.40" font-size="5.6" fill="#222" style="stroke-width:0.1px" textLength="7.6" lengthAdjust="spacingAndGlyphs">85+</text>
<text x="176.2" y="75.00" font-size="5.6" fill="#222" style="stroke-width:0.1px" textLength="11.9" lengthAdjust="spacingAndGlyphs">80-84</text>
<text x="176.2" y="80.60" font-size="5.6" fill="#222" style="stroke-width:0.1px" textLength="11.9" lengthAdjust="spacingAndGlyphs">75-79</text>
<text x="176.2" y="86.70" font-size="5.6" fill="#222" style="stroke-width:0.1px" textLength="11.9" lengthAdjust="spacingAndGlyphs">70-74</text>
<text x="176.2" y="93.30" font-size="5.6" fill="#222" style="stroke-width:0.1px" textLength="11.9" lengthAdjust="spacingAndGlyphs">65-69</text>
<text x="176.2" y="103.40" font-size="5.6" fill="#222" style="stroke-width:0.1px" textLength="11.9" lengthAdjust="spacingAndGlyphs">60-64</text>
<text x="176.2" y="113.00" font-size="5.6" fill="#222" style="stroke-width:0.1px" textLength="11.9" lengthAdjust="spacingAndGlyphs">55-59</text>
<text x="176.2" y="124.00" font-size="5.6" fill="#222" style="stroke-width:0.1px" textLength="11.9" lengthAdjust="spacingAndGlyphs">50-54</text>
<text x="176.2" y="135.90" font-size="5.6" fill="#222" style="stroke-width:0.1px" textLength="11.9" lengthAdjust="spacingAndGlyphs">45-49</text>
<text x="176.2" y="150.20" font-size="5.6" fill="#222" style="stroke-width:0.1px" textLength="11.9" lengthAdjust="spacingAndGlyphs">40-44</text>
<text x="176.2" y="164.80" font-size="5.6" fill="#222" style="stroke-width:0.1px" textLength="11.9" lengthAdjust="spacingAndGlyphs">35-39</text>
<text x="176.2" y="180.30" font-size="5.6" fill="#222" style="stroke-width:0.1px" textLength="11.9" lengthAdjust="spacingAndGlyphs">30-34</text>
<text x="176.2" y="197.50" font-size="5.6" fill="#222" style="stroke-width:0.1px" textLength="11.9" lengthAdjust="spacingAndGlyphs">25-29</text>
<path d="M37.5 69.1L42.3 64.1L47.1 68.2L51.9 63.5L56.7 60.4L61.5 63.5L66.3 65.8L71.1 62.8L75.9 62.2L80.7 62.8L85.5 63.1L90.3 59.1L95.1 62.5L99.8 63.1L104.6 63.1L109.4 63.2L114.2 63.4L119.0 63.5L123.8 63.8L128.6 63.9" stroke="#8b0a0a" stroke-width="0.8" fill="none" stroke-opacity="0.85"/>
<g fill="#8b0a0a"><circle cx="37.5" cy="69.1" r="1.75"/><circle cx="42.3" cy="64.1" r="1.75"/><circle cx="47.1" cy="68.2" r="1.75"/><circle cx="51.9" cy="63.5" r="1.75"/><circle cx="56.7" cy="60.4" r="1.75"/><circle cx="61.5" cy="63.5" r="1.75"/><circle cx="66.3" cy="65.8" r="1.75"/><circle cx="71.1" cy="62.8" r="1.75"/><circle cx="75.9" cy="62.2" r="1.75"/><circle cx="80.7" cy="62.8" r="1.75"/><circle cx="85.5" cy="63.1" r="1.75"/><circle cx="90.3" cy="59.1" r="1.75"/><circle cx="95.1" cy="62.5" r="1.75"/><circle cx="99.8" cy="63.1" r="1.75"/><circle cx="104.6" cy="63.1" r="1.75"/><circle cx="109.4" cy="63.2" r="1.75"/><circle cx="114.2" cy="63.4" r="1.75"/><circle cx="119.0" cy="63.5" r="1.75"/><circle cx="123.8" cy="63.8" r="1.75"/><circle cx="128.6" cy="63.9" r="1.75"/></g>
<path d="M37.5 69.3L42.3 64.3L47.1 62.8L51.9 66.7L56.7 62.2L61.5 68.1L66.3 66.0L71.1 68.2L75.9 63.5L80.7 62.8L85.5 65.2L90.3 66.7L95.1 65.3L99.8 66.2L104.6 66.6L109.4 67.8L114.2 67.8L119.0 64.1L123.8 65.3L128.6 66.2" stroke="#8a2be2" stroke-width="0.8" fill="none" stroke-opacity="0.85"/>
<g fill="#8a2be2"><circle cx="37.5" cy="69.3" r="1.75"/><circle cx="42.3" cy="64.3" r="1.75"/><circle cx="47.1" cy="62.8" r="1.75"/><circle cx="51.9" cy="66.7" r="1.75"/><circle cx="56.7" cy="62.2" r="1.75"/><circle cx="61.5" cy="68.1" r="1.75"/><circle cx="66.3" cy="66.0" r="1.75"/><circle cx="71.1" cy="68.2" r="1.75"/><circle cx="75.9" cy="63.5" r="1.75"/><circle cx="80.7" cy="62.8" r="1.75"/><circle cx="85.5" cy="65.2" r="1.75"/><circle cx="90.3" cy="66.7" r="1.75"/><circle cx="95.1" cy="65.3" r="1.75"/><circle cx="99.8" cy="66.2" r="1.75"/><circle cx="104.6" cy="66.6" r="1.75"/><circle cx="109.4" cy="67.8" r="1.75"/><circle cx="114.2" cy="67.8" r="1.75"/><circle cx="119.0" cy="64.1" r="1.75"/><circle cx="123.8" cy="65.3" r="1.75"/><circle cx="128.6" cy="66.2" r="1.75"/></g>
<path d="M37.5 68.8L42.3 68.5L47.1 65.5L51.9 69.9L56.7 69.4L61.5 69.9L66.3 71.7L71.1 67.4L75.9 69.9L80.7 67.5L85.5 68.1L90.3 70.0L95.1 68.1L99.8 68.1L104.6 70.6L109.4 70.6L114.2 70.6L119.0 70.3L123.8 71.6L128.6 73.8" stroke="#ff8a5c" stroke-width="0.8" fill="none" stroke-opacity="0.85"/>
<g fill="#ff8a5c"><circle cx="37.5" cy="68.8" r="1.75"/><circle cx="42.3" cy="68.5" r="1.75"/><circle cx="47.1" cy="65.5" r="1.75"/><circle cx="51.9" cy="69.9" r="1.75"/><circle cx="56.7" cy="69.4" r="1.75"/><circle cx="61.5" cy="69.9" r="1.75"/><circle cx="66.3" cy="71.7" r="1.75"/><circle cx="71.1" cy="67.4" r="1.75"/><circle cx="75.9" cy="69.9" r="1.75"/><circle cx="80.7" cy="67.5" r="1.75"/><circle cx="85.5" cy="68.1" r="1.75"/><circle cx="90.3" cy="70.0" r="1.75"/><circle cx="95.1" cy="68.1" r="1.75"/><circle cx="99.8" cy="68.1" r="1.75"/><circle cx="104.6" cy="70.6" r="1.75"/><circle cx="109.4" cy="70.6" r="1.75"/><circle cx="114.2" cy="70.6" r="1.75"/><circle cx="119.0" cy="70.3" r="1.75"/><circle cx="123.8" cy="71.6" r="1.75"/><circle cx="128.6" cy="73.8" r="1.75"/></g>
<path d="M37.5 75.0L42.3 75.0L47.1 71.6L51.9 73.1L56.7 76.2L61.5 73.4L66.3 74.4L71.1 73.1L75.9 73.4L80.7 75.0L85.5 75.0L90.3 73.1L95.1 75.0L99.8 76.2L104.6 77.5L109.4 76.2L114.2 78.1L119.0 75.3L123.8 77.2L128.6 78.1" stroke="#2e8b57" stroke-width="0.8" fill="none" stroke-opacity="0.85"/>
<g fill="#2e8b57"><circle cx="37.5" cy="75.0" r="1.75"/><circle cx="42.3" cy="75.0" r="1.75"/><circle cx="47.1" cy="71.6" r="1.75"/><circle cx="51.9" cy="73.1" r="1.75"/><circle cx="56.7" cy="76.2" r="1.75"/><circle cx="61.5" cy="73.4" r="1.75"/><circle cx="66.3" cy="74.4" r="1.75"/><circle cx="71.1" cy="73.1" r="1.75"/><circle cx="75.9" cy="73.4" r="1.75"/><circle cx="80.7" cy="75.0" r="1.75"/><circle cx="85.5" cy="75.0" r="1.75"/><circle cx="90.3" cy="73.1" r="1.75"/><circle cx="95.1" cy="75.0" r="1.75"/><circle cx="99.8" cy="76.2" r="1.75"/><circle cx="104.6" cy="77.5" r="1.75"/><circle cx="109.4" cy="76.2" r="1.75"/><circle cx="114.2" cy="78.1" r="1.75"/><circle cx="119.0" cy="75.3" r="1.75"/><circle cx="123.8" cy="77.2" r="1.75"/><circle cx="128.6" cy="78.1" r="1.75"/></g>
<path d="M37.5 81.6L42.3 80.0L47.1 81.6L51.9 79.4L56.7 80.9L61.5 82.2L66.3 78.1L71.1 80.9L75.9 80.6L80.7 81.9L85.5 81.9L90.3 78.8L95.1 83.8L99.8 85.3L104.6 85.9L109.4 87.8L114.2 85.3L119.0 83.1L123.8 85.6L128.6 85.3" stroke="#ff0000" stroke-width="0.8" fill="none" stroke-opacity="0.85"/>
<g fill="#ff0000"><circle cx="37.5" cy="81.6" r="1.75"/><circle cx="42.3" cy="80.0" r="1.75"/><circle cx="47.1" cy="81.6" r="1.75"/><circle cx="51.9" cy="79.4" r="1.75"/><circle cx="56.7" cy="80.9" r="1.75"/><circle cx="61.5" cy="82.2" r="1.75"/><circle cx="66.3" cy="78.1" r="1.75"/><circle cx="71.1" cy="80.9" r="1.75"/><circle cx="75.9" cy="80.6" r="1.75"/><circle cx="80.7" cy="81.9" r="1.75"/><circle cx="85.5" cy="81.9" r="1.75"/><circle cx="90.3" cy="78.8" r="1.75"/><circle cx="95.1" cy="83.8" r="1.75"/><circle cx="99.8" cy="85.3" r="1.75"/><circle cx="104.6" cy="85.9" r="1.75"/><circle cx="109.4" cy="87.8" r="1.75"/><circle cx="114.2" cy="85.3" r="1.75"/><circle cx="119.0" cy="83.1" r="1.75"/><circle cx="123.8" cy="85.6" r="1.75"/><circle cx="128.6" cy="85.3" r="1.75"/></g>
<path d="M37.5 87.2L42.3 91.6L47.1 87.2L51.9 88.4L56.7 86.2L61.5 88.1L66.3 90.3L71.1 87.8L75.9 91.6L80.7 92.0L85.5 90.9L90.3 89.7L95.1 91.6L99.8 94.7L104.6 92.2L109.4 93.1L114.2 92.2L119.0 90.9L123.8 92.5L128.6 92.5" stroke="#ffe066" stroke-width="0.8" fill="none" stroke-opacity="0.85"/>
<g fill="#ffe066"><circle cx="37.5" cy="87.2" r="1.75"/><circle cx="42.3" cy="91.6" r="1.75"/><circle cx="47.1" cy="87.2" r="1.75"/><circle cx="51.9" cy="88.4" r="1.75"/><circle cx="56.7" cy="86.2" r="1.75"/><circle cx="61.5" cy="88.1" r="1.75"/><circle cx="66.3" cy="90.3" r="1.75"/><circle cx="71.1" cy="87.8" r="1.75"/><circle cx="75.9" cy="91.6" r="1.75"/><circle cx="80.7" cy="92.0" r="1.75"/><circle cx="85.5" cy="90.9" r="1.75"/><circle cx="90.3" cy="89.7" r="1.75"/><circle cx="95.1" cy="91.6" r="1.75"/><circle cx="99.8" cy="94.7" r="1.75"/><circle cx="104.6" cy="92.2" r="1.75"/><circle cx="109.4" cy="93.1" r="1.75"/><circle cx="114.2" cy="92.2" r="1.75"/><circle cx="119.0" cy="90.9" r="1.75"/><circle cx="123.8" cy="92.5" r="1.75"/><circle cx="128.6" cy="92.5" r="1.75"/></g>
<path d="M37.5 102.2L42.3 95.0L47.1 97.8L51.9 99.1L56.7 96.6L61.5 98.4L66.3 99.1L71.1 97.5L75.9 97.5L80.7 100.3L85.5 96.6L90.3 101.6L95.1 99.7L99.8 100.3L104.6 99.7L109.4 102.8L114.2 100.3L119.0 100.9L123.8 104.1L128.6 102.2" stroke="#8c8c8c" stroke-width="0.8" fill="none" stroke-opacity="0.85"/>
<g fill="#8c8c8c"><circle cx="37.5" cy="102.2" r="1.75"/><circle cx="42.3" cy="95.0" r="1.75"/><circle cx="47.1" cy="97.8" r="1.75"/><circle cx="51.9" cy="99.1" r="1.75"/><circle cx="56.7" cy="96.6" r="1.75"/><circle cx="61.5" cy="98.4" r="1.75"/><circle cx="66.3" cy="99.1" r="1.75"/><circle cx="71.1" cy="97.5" r="1.75"/><circle cx="75.9" cy="97.5" r="1.75"/><circle cx="80.7" cy="100.3" r="1.75"/><circle cx="85.5" cy="96.6" r="1.75"/><circle cx="90.3" cy="101.6" r="1.75"/><circle cx="95.1" cy="99.7" r="1.75"/><circle cx="99.8" cy="100.3" r="1.75"/><circle cx="104.6" cy="99.7" r="1.75"/><circle cx="109.4" cy="102.8" r="1.75"/><circle cx="114.2" cy="100.3" r="1.75"/><circle cx="119.0" cy="100.9" r="1.75"/><circle cx="123.8" cy="104.1" r="1.75"/><circle cx="128.6" cy="102.2" r="1.75"/></g>
<path d="M37.5 109.7L42.3 108.4L47.1 104.7L51.9 111.6L56.7 110.0L61.5 106.2L66.3 105.6L71.1 106.2L75.9 105.6L80.7 108.1L85.5 108.4L90.3 108.1L95.1 110.0L99.8 112.5L104.6 113.8L109.4 111.9L114.2 110.6L119.0 111.2L123.8 112.5L128.6 110.6" stroke="#8b4513" stroke-width="0.8" fill="none" stroke-opacity="0.85"/>
<g fill="#8b4513"><circle cx="37.5" cy="109.7" r="1.75"/><circle cx="42.3" cy="108.4" r="1.75"/><circle cx="47.1" cy="104.7" r="1.75"/><circle cx="51.9" cy="111.6" r="1.75"/><circle cx="56.7" cy="110.0" r="1.75"/><circle cx="61.5" cy="106.2" r="1.75"/><circle cx="66.3" cy="105.6" r="1.75"/><circle cx="71.1" cy="106.2" r="1.75"/><circle cx="75.9" cy="105.6" r="1.75"/><circle cx="80.7" cy="108.1" r="1.75"/><circle cx="85.5" cy="108.4" r="1.75"/><circle cx="90.3" cy="108.1" r="1.75"/><circle cx="95.1" cy="110.0" r="1.75"/><circle cx="99.8" cy="112.5" r="1.75"/><circle cx="104.6" cy="113.8" r="1.75"/><circle cx="109.4" cy="111.9" r="1.75"/><circle cx="114.2" cy="110.6" r="1.75"/><circle cx="119.0" cy="111.2" r="1.75"/><circle cx="123.8" cy="112.5" r="1.75"/><circle cx="128.6" cy="110.6" r="1.75"/></g>
<path d="M37.5 118.6L42.3 121.6L47.1 118.8L51.9 114.0L56.7 118.4L61.5 118.4L66.3 125.3L71.1 117.2L75.9 121.2L80.7 120.3L85.5 117.2L90.3 123.1L95.1 122.2L99.8 119.4L104.6 122.8L109.4 127.2L114.2 122.2L119.0 122.8L123.8 130.3L128.6 127.8" stroke="#1e90ff" stroke-width="0.8" fill="none" stroke-opacity="0.85"/>
<g fill="#1e90ff"><circle cx="37.5" cy="118.6" r="1.75"/><circle cx="42.3" cy="121.6" r="1.75"/><circle cx="47.1" cy="118.8" r="1.75"/><circle cx="51.9" cy="114.0" r="1.75"/><circle cx="56.7" cy="118.4" r="1.75"/><circle cx="61.5" cy="118.4" r="1.75"/><circle cx="66.3" cy="125.3" r="1.75"/><circle cx="71.1" cy="117.2" r="1.75"/><circle cx="75.9" cy="121.2" r="1.75"/><circle cx="80.7" cy="120.3" r="1.75"/><circle cx="85.5" cy="117.2" r="1.75"/><circle cx="90.3" cy="123.1" r="1.75"/><circle cx="95.1" cy="122.2" r="1.75"/><circle cx="99.8" cy="119.4" r="1.75"/><circle cx="104.6" cy="122.8" r="1.75"/><circle cx="109.4" cy="127.2" r="1.75"/><circle cx="114.2" cy="122.2" r="1.75"/><circle cx="119.0" cy="122.8" r="1.75"/><circle cx="123.8" cy="130.3" r="1.75"/><circle cx="128.6" cy="127.8" r="1.75"/></g>
<path d="M37.5 133.4L42.3 130.3L47.1 127.5L51.9 131.6L56.7 136.6L61.5 129.1L66.3 131.6L71.1 131.0L75.9 137.8L80.7 131.0L85.5 132.2L90.3 135.3L95.1 142.2L99.8 132.8L104.6 137.8L109.4 132.8L114.2 136.6L119.0 141.2L123.8 141.9L128.6 138.4" stroke="#3de585" stroke-width="0.8" fill="none" stroke-opacity="0.85"/>
<g fill="#3de585"><circle cx="37.5" cy="133.4" r="1.75"/><circle cx="42.3" cy="130.3" r="1.75"/><circle cx="47.1" cy="127.5" r="1.75"/><circle cx="51.9" cy="131.6" r="1.75"/><circle cx="56.7" cy="136.6" r="1.75"/><circle cx="61.5" cy="129.1" r="1.75"/><circle cx="66.3" cy="131.6" r="1.75"/><circle cx="71.1" cy="131.0" r="1.75"/><circle cx="75.9" cy="137.8" r="1.75"/><circle cx="80.7" cy="131.0" r="1.75"/><circle cx="85.5" cy="132.2" r="1.75"/><circle cx="90.3" cy="135.3" r="1.75"/><circle cx="95.1" cy="142.2" r="1.75"/><circle cx="99.8" cy="132.8" r="1.75"/><circle cx="104.6" cy="137.8" r="1.75"/><circle cx="109.4" cy="132.8" r="1.75"/><circle cx="114.2" cy="136.6" r="1.75"/><circle cx="119.0" cy="141.2" r="1.75"/><circle cx="123.8" cy="141.9" r="1.75"/><circle cx="128.6" cy="138.4" r="1.75"/></g>
<path d="M37.5 141.5L42.3 147.5L47.1 144.5L51.9 152.0L56.7 142.3L61.5 145.0L66.3 145.4L71.1 139.4L75.9 149.5L80.7 145.6L85.5 143.0L90.3 143.6L95.1 164.8L99.8 147.8L104.6 164.0L109.4 146.2L114.2 150.6L119.0 146.7L123.8 153.2L128.6 151.9" stroke="#0000cd" stroke-width="0.8" fill="none" stroke-opacity="0.85"/>
<g fill="#0000cd"><circle cx="37.5" cy="141.5" r="1.75"/><circle cx="42.3" cy="147.5" r="1.75"/><circle cx="47.1" cy="144.5" r="1.75"/><circle cx="51.9" cy="152.0" r="1.75"/><circle cx="56.7" cy="142.3" r="1.75"/><circle cx="61.5" cy="145.0" r="1.75"/><circle cx="66.3" cy="145.4" r="1.75"/><circle cx="71.1" cy="139.4" r="1.75"/><circle cx="75.9" cy="149.5" r="1.75"/><circle cx="80.7" cy="145.6" r="1.75"/><circle cx="85.5" cy="143.0" r="1.75"/><circle cx="90.3" cy="143.6" r="1.75"/><circle cx="95.1" cy="164.8" r="1.75"/><circle cx="99.8" cy="147.8" r="1.75"/><circle cx="104.6" cy="164.0" r="1.75"/><circle cx="109.4" cy="146.2" r="1.75"/><circle cx="114.2" cy="150.6" r="1.75"/><circle cx="119.0" cy="146.7" r="1.75"/><circle cx="123.8" cy="153.2" r="1.75"/><circle cx="128.6" cy="151.9" r="1.75"/></g>
<path d="M37.5 160.5L42.3 151.0L47.1 153.8L51.9 153.8L56.7 165.0L61.5 148.8L66.3 150.2L71.1 157.2L75.9 172.3L80.7 164.6L85.5 157.2L90.3 153.8L95.1 160.0L99.8 160.6L104.6 174.4L109.4 169.8L114.2 179.4L119.0 166.2L123.8 178.8L128.6 168.5" stroke="#ffb414" stroke-width="0.8" fill="none" stroke-opacity="0.85"/>
<g fill="#ffb414"><circle cx="37.5" cy="160.5" r="1.75"/><circle cx="42.3" cy="151.0" r="1.75"/><circle cx="47.1" cy="153.8" r="1.75"/><circle cx="51.9" cy="153.8" r="1.75"/><circle cx="56.7" cy="165.0" r="1.75"/><circle cx="61.5" cy="148.8" r="1.75"/><circle cx="66.3" cy="150.2" r="1.75"/><circle cx="71.1" cy="157.2" r="1.75"/><circle cx="75.9" cy="172.3" r="1.75"/><circle cx="80.7" cy="164.6" r="1.75"/><circle cx="85.5" cy="157.2" r="1.75"/><circle cx="90.3" cy="153.8" r="1.75"/><circle cx="95.1" cy="160.0" r="1.75"/><circle cx="99.8" cy="160.6" r="1.75"/><circle cx="104.6" cy="174.4" r="1.75"/><circle cx="109.4" cy="169.8" r="1.75"/><circle cx="114.2" cy="179.4" r="1.75"/><circle cx="119.0" cy="166.2" r="1.75"/><circle cx="123.8" cy="178.8" r="1.75"/><circle cx="128.6" cy="168.5" r="1.75"/></g>
<path d="M37.5 199.4L42.3 164.6L47.1 185.6L51.9 177.5L56.7 172.3L61.5 185.6L66.3 157.8L71.1 173.8L75.9 186.9L80.7 179.8L85.5 179.8L90.3 170.0L95.1 200.0L99.8 186.3M109.4 184.4L114.2 196.9L119.0 183.8L123.8 196.2L128.6 196.2" stroke="#000000" stroke-width="0.8" fill="none" stroke-opacity="0.85"/>
<g fill="#000000"><circle cx="37.5" cy="199.4" r="1.75"/><circle cx="42.3" cy="164.6" r="1.75"/><circle cx="47.1" cy="185.6" r="1.75"/><circle cx="51.9" cy="177.5" r="1.75"/><circle cx="56.7" cy="172.3" r="1.75"/><circle cx="61.5" cy="185.6" r="1.75"/><circle cx="66.3" cy="157.8" r="1.75"/><circle cx="71.1" cy="173.8" r="1.75"/><circle cx="75.9" cy="186.9" r="1.75"/><circle cx="80.7" cy="179.8" r="1.75"/><circle cx="85.5" cy="179.8" r="1.75"/><circle cx="90.3" cy="170.0" r="1.75"/><circle cx="95.1" cy="200.0" r="1.75"/><circle cx="99.8" cy="186.3" r="1.75"/><circle cx="109.4" cy="184.4" r="1.75"/><circle cx="114.2" cy="196.9" r="1.75"/><circle cx="119.0" cy="183.8" r="1.75"/><circle cx="123.8" cy="196.2" r="1.75"/><circle cx="128.6" cy="196.2" r="1.75"/></g>
<path d="M244.40 62.50L252.68 62.61L260.95 62.75L269.23 62.92L277.50 63.12L285.77 63.36L294.05 63.62L302.32 63.92L310.60 64.24L318.88 64.60L327.15 64.99L335.43 65.41L343.70 65.86L351.98 66.34L360.25 66.86L368.52 67.40L376.80 67.98L385.08 68.58L393.35 69.22L401.62 69.89L409.90 70.59L418.18 71.32L426.45 72.08L434.73 72.88L443.00 73.70" stroke="#d0101f" stroke-width="1.2" stroke-dasharray="1.9 3.0" fill="none"/>
<text x="449" y="76.20" font-size="5.6" fill="#222" style="stroke-width:0.1px" textLength="7.6" lengthAdjust="spacingAndGlyphs">85+</text>
<path d="M271.88 65.70L280.10 65.83L288.32 65.99L296.54 66.19L304.76 66.42L312.98 66.69L321.21 67.00L329.43 67.34L337.65 67.72L345.87 68.14L354.09 68.59L362.32 69.08L370.54 69.60L378.76 70.16L386.98 70.76L395.20 71.39L403.42 72.06L411.65 72.76L419.87 73.50L428.09 74.28L436.31 75.09L444.53 75.94L452.76 76.82L460.98 77.74L469.20 78.70" stroke="#d0101f" stroke-width="1.2" stroke-dasharray="1.9 3.0" fill="none"/>
<text x="475.2" y="81.20" font-size="5.6" fill="#222" style="stroke-width:0.1px" textLength="11.9" lengthAdjust="spacingAndGlyphs">80-84</text>
<path d="M299.35 69.00L307.96 69.19L316.58 69.44L325.19 69.75L333.81 70.11L342.42 70.52L351.04 70.99L359.65 71.52L368.27 72.10L376.88 72.73L385.50 73.42L394.11 74.17L402.73 74.97L411.34 75.83L419.95 76.74L428.57 77.71L437.18 78.73L445.80 79.81L454.41 80.94L463.03 82.13L471.64 83.37L480.26 84.67L488.87 86.03L497.49 87.44L506.10 88.90" stroke="#d0101f" stroke-width="1.2" stroke-dasharray="1.9 3.0" fill="none"/>
<text x="512.1" y="91.40" font-size="5.6" fill="#222" style="stroke-width:0.1px" textLength="11.9" lengthAdjust="spacingAndGlyphs">75-79</text>
<path d="M326.82 74.00L335.46 74.21L344.10 74.48L352.73 74.81L361.37 75.21L370.01 75.66L378.64 76.17L387.28 76.74L395.92 77.38L404.55 78.07L413.19 78.82L421.83 79.64L430.46 80.51L439.10 81.44L447.74 82.44L456.37 83.49L465.01 84.61L473.64 85.78L482.28 87.02L490.92 88.32L499.55 89.67L508.19 91.09L516.83 92.57L525.46 94.10L534.10 95.70" stroke="#d0101f" stroke-width="1.2" stroke-dasharray="1.9 3.0" fill="none"/>
<text x="540.1" y="98.20" font-size="5.6" fill="#222" style="stroke-width:0.1px" textLength="11.9" lengthAdjust="spacingAndGlyphs">70-74</text>
<path d="M354.30 80.50L362.93 80.73L371.55 81.02L380.18 81.37L388.80 81.79L397.43 82.27L406.05 82.82L414.68 83.43L423.30 84.11L431.92 84.85L440.55 85.66L449.17 86.53L457.80 87.46L466.42 88.46L475.05 89.52L483.67 90.65L492.30 91.84L500.92 93.10L509.55 94.42L518.17 95.81L526.80 97.26L535.42 98.77L544.05 100.35L552.67 101.99L561.30 103.70" stroke="#d0101f" stroke-width="1.2" stroke-dasharray="1.9 3.0" fill="none"/>
<text x="567.3" y="106.20" font-size="5.6" fill="#222" style="stroke-width:0.1px" textLength="11.9" lengthAdjust="spacingAndGlyphs">65-69</text>
<path d="M381.77 88.00L390.39 88.24L399.00 88.54L407.62 88.91L416.23 89.35L424.84 89.86L433.46 90.43L442.07 91.07L450.68 91.78L459.30 92.56L467.91 93.40L476.52 94.31L485.14 95.29L493.75 96.34L502.36 97.45L510.98 98.63L519.59 99.88L528.21 101.20L536.82 102.58L545.43 104.03L554.05 105.55L562.66 107.14L571.27 108.79L579.89 110.51L588.50 112.30" stroke="#d0101f" stroke-width="1.2" stroke-dasharray="1.9 3.0" fill="none"/>
<text x="594.5" y="114.80" font-size="5.6" fill="#222" style="stroke-width:0.1px" textLength="11.9" lengthAdjust="spacingAndGlyphs">60-64</text>
<path d="M409.25 97.20L417.89 97.45L426.52 97.77L435.16 98.16L443.79 98.62L452.43 99.16L461.06 99.76L469.70 100.44L478.33 101.18L486.97 102.00L495.60 102.89L504.24 103.85L512.88 104.88L521.51 105.98L530.15 107.16L538.78 108.40L547.42 109.72L556.05 111.10L564.69 112.56L573.32 114.09L581.96 115.69L590.59 117.36L599.23 119.10L607.86 120.92L616.50 122.80" stroke="#d0101f" stroke-width="1.2" stroke-dasharray="1.9 3.0" fill="none"/>
<text x="622.5" y="125.30" font-size="5.6" fill="#222" style="stroke-width:0.1px" textLength="11.9" lengthAdjust="spacingAndGlyphs">55-59</text>
<path d="M436.73 107.20L445.34 107.46L453.96 107.79L462.57 108.20L471.19 108.68L479.80 109.24L488.42 109.87L497.03 110.57L505.65 111.35L514.27 112.21L522.88 113.13L531.50 114.13L540.11 115.21L548.73 116.36L557.34 117.58L565.96 118.88L574.58 120.25L583.19 121.70L591.81 123.22L600.42 124.81L609.04 126.48L617.65 128.23L626.27 130.04L634.88 131.93L643.50 133.90" stroke="#d0101f" stroke-width="1.2" stroke-dasharray="1.9 3.0" fill="none"/>
<text x="649.5" y="136.40" font-size="5.6" fill="#222" style="stroke-width:0.1px" textLength="11.9" lengthAdjust="spacingAndGlyphs">50-54</text>
<path d="M464.20 118.00L472.82 118.28L481.43 118.63L490.05 119.07L498.67 119.58L507.28 120.18L515.90 120.85L524.52 121.60L533.13 122.43L541.75 123.34L550.37 124.33L558.98 125.40L567.60 126.55L576.22 127.78L584.83 129.08L593.45 130.47L602.07 131.93L610.68 133.48L619.30 135.10L627.92 136.80L636.53 138.58L645.15 140.44L653.77 142.38L662.38 144.40L671.00 146.50" stroke="#d0101f" stroke-width="1.2" stroke-dasharray="1.9 3.0" fill="none"/>
<text x="677" y="149.00" font-size="5.6" fill="#222" style="stroke-width:0.1px" textLength="11.9" lengthAdjust="spacingAndGlyphs">45-49</text>
<path d="M491.68 130.00L500.30 130.29L508.93 130.67L517.55 131.12L526.18 131.67L534.81 132.29L543.43 133.00L552.06 133.79L560.68 134.67L569.31 135.62L577.94 136.67L586.56 137.79L595.19 139.00L603.81 140.29L612.44 141.67L621.07 143.12L629.69 144.67L638.32 146.29L646.94 148.00L655.57 149.79L664.20 151.67L672.82 153.62L681.45 155.67L690.07 157.79L698.70 160.00" stroke="#d0101f" stroke-width="1.2" stroke-dasharray="1.9 3.0" fill="none"/>
<text x="704.7" y="162.50" font-size="5.6" fill="#222" style="stroke-width:0.1px" textLength="11.9" lengthAdjust="spacingAndGlyphs">40-44</text>
<path d="M519.15 144.40L527.76 144.70L536.37 145.10L544.98 145.57L553.59 146.14L562.20 146.79L570.81 147.53L579.42 148.36L588.03 149.27L596.64 150.27L605.25 151.36L613.86 152.53L622.47 153.79L631.09 155.14L639.70 156.57L648.31 158.09L656.92 159.70L665.53 161.40L674.14 163.18L682.75 165.05L691.36 167.01L699.97 169.05L708.58 171.18L717.19 173.40L725.80 175.70" stroke="#d0101f" stroke-width="1.2" stroke-dasharray="1.9 3.0" fill="none"/>
<text x="731.8" y="178.20" font-size="5.6" fill="#222" style="stroke-width:0.1px" textLength="11.9" lengthAdjust="spacingAndGlyphs">35-39</text>
<path d="M546.62 159.40L555.25 159.71L563.88 160.11L572.51 160.60L581.14 161.18L589.77 161.85L598.39 162.61L607.02 163.46L615.65 164.39L624.28 165.42L632.91 166.53L641.53 167.74L650.16 169.03L658.79 170.41L667.42 171.88L676.05 173.44L684.67 175.09L693.30 176.83L701.93 178.66L710.56 180.58L719.19 182.58L727.82 184.68L736.44 186.86L745.07 189.14L753.70 191.50" stroke="#d0101f" stroke-width="1.2" stroke-dasharray="1.9 3.0" fill="none"/>
<text x="759.7" y="194.00" font-size="5.6" fill="#222" style="stroke-width:0.1px" textLength="11.9" lengthAdjust="spacingAndGlyphs">30-34</text>
<path d="M574.10 175.20L582.71 175.53L591.32 175.95L599.93 176.47L608.53 177.08L617.14 177.78L625.75 178.58L634.36 179.47L642.97 180.46L651.58 181.54L660.18 182.71L668.79 183.98L677.40 185.34L686.01 186.80L694.62 188.34L703.23 189.99L711.83 191.72L720.44 193.56L729.05 195.48L737.66 197.50L746.27 199.61L754.88 201.82L763.48 204.12L772.09 206.51L780.70 209.00" stroke="#d0101f" stroke-width="1.2" stroke-dasharray="1.9 3.0" fill="none"/>
<text x="786.7" y="211.50" font-size="5.6" fill="#222" style="stroke-width:0.1px" textLength="11.9" lengthAdjust="spacingAndGlyphs">25-29</text>
<path d="M244.4 69.1L249.9 64.1L255.4 68.2L260.9 63.5L266.4 60.4L271.9 63.5L277.4 65.8L282.9 62.8L288.4 62.2L293.9 62.8L299.4 63.1L304.8 59.1L310.3 62.5L315.8 63.1L321.3 63.1L326.8 63.2L332.3 63.4L337.8 63.5L343.3 63.8L348.8 63.9" stroke="#8b0a0a" stroke-width="0.8" fill="none" stroke-opacity="0.85"/>
<g fill="#8b0a0a"><circle cx="244.4" cy="69.1" r="1.75"/><circle cx="249.9" cy="64.1" r="1.75"/><circle cx="255.4" cy="68.2" r="1.75"/><circle cx="260.9" cy="63.5" r="1.75"/><circle cx="266.4" cy="60.4" r="1.75"/><circle cx="271.9" cy="63.5" r="1.75"/><circle cx="277.4" cy="65.8" r="1.75"/><circle cx="282.9" cy="62.8" r="1.75"/><circle cx="288.4" cy="62.2" r="1.75"/><circle cx="293.9" cy="62.8" r="1.75"/><circle cx="299.4" cy="63.1" r="1.75"/><circle cx="304.8" cy="59.1" r="1.75"/><circle cx="310.3" cy="62.5" r="1.75"/><circle cx="315.8" cy="63.1" r="1.75"/><circle cx="321.3" cy="63.1" r="1.75"/><circle cx="326.8" cy="63.2" r="1.75"/><circle cx="332.3" cy="63.4" r="1.75"/><circle cx="337.8" cy="63.5" r="1.75"/><circle cx="343.3" cy="63.8" r="1.75"/><circle cx="348.8" cy="63.9" r="1.75"/></g>
<path d="M271.9 69.3L277.4 64.3L282.9 62.8L288.4 66.7L293.9 62.2L299.4 68.1L304.8 66.0L310.3 68.2L315.8 63.5L321.3 62.8L326.8 65.2L332.3 66.7L337.8 65.3L343.3 66.2L348.8 66.6L354.3 67.8L359.8 67.8L365.3 64.1L370.8 65.3L376.3 66.2" stroke="#8a2be2" stroke-width="0.8" fill="none" stroke-opacity="0.85"/>
<g fill="#8a2be2"><circle cx="271.9" cy="69.3" r="1.75"/><circle cx="277.4" cy="64.3" r="1.75"/><circle cx="282.9" cy="62.8" r="1.75"/><circle cx="288.4" cy="66.7" r="1.75"/><circle cx="293.9" cy="62.2" r="1.75"/><circle cx="299.4" cy="68.1" r="1.75"/><circle cx="304.8" cy="66.0" r="1.75"/><circle cx="310.3" cy="68.2" r="1.75"/><circle cx="315.8" cy="63.5" r="1.75"/><circle cx="321.3" cy="62.8" r="1.75"/><circle cx="326.8" cy="65.2" r="1.75"/><circle cx="332.3" cy="66.7" r="1.75"/><circle cx="337.8" cy="65.3" r="1.75"/><circle cx="343.3" cy="66.2" r="1.75"/><circle cx="348.8" cy="66.6" r="1.75"/><circle cx="354.3" cy="67.8" r="1.75"/><circle cx="359.8" cy="67.8" r="1.75"/><circle cx="365.3" cy="64.1" r="1.75"/><circle cx="370.8" cy="65.3" r="1.75"/><circle cx="376.3" cy="66.2" r="1.75"/></g>
<path d="M299.4 68.8L304.8 68.5L310.3 65.5L315.8 69.9L321.3 69.4L326.8 69.9L332.3 71.7L337.8 67.4L343.3 69.9L348.8 67.5L354.3 68.1L359.8 70.0L365.3 68.1L370.8 68.1L376.3 70.6L381.8 70.6L387.3 70.6L392.8 70.3L398.3 71.6L403.8 73.8" stroke="#ff8a5c" stroke-width="0.8" fill="none" stroke-opacity="0.85"/>
<g fill="#ff8a5c"><circle cx="299.4" cy="68.8" r="1.75"/><circle cx="304.8" cy="68.5" r="1.75"/><circle cx="310.3" cy="65.5" r="1.75"/><circle cx="315.8" cy="69.9" r="1.75"/><circle cx="321.3" cy="69.4" r="1.75"/><circle cx="326.8" cy="69.9" r="1.75"/><circle cx="332.3" cy="71.7" r="1.75"/><circle cx="337.8" cy="67.4" r="1.75"/><circle cx="343.3" cy="69.9" r="1.75"/><circle cx="348.8" cy="67.5" r="1.75"/><circle cx="354.3" cy="68.1" r="1.75"/><circle cx="359.8" cy="70.0" r="1.75"/><circle cx="365.3" cy="68.1" r="1.75"/><circle cx="370.8" cy="68.1" r="1.75"/><circle cx="376.3" cy="70.6" r="1.75"/><circle cx="381.8" cy="70.6" r="1.75"/><circle cx="387.3" cy="70.6" r="1.75"/><circle cx="392.8" cy="70.3" r="1.75"/><circle cx="398.3" cy="71.6" r="1.75"/><circle cx="403.8" cy="73.8" r="1.75"/></g>
<path d="M326.8 75.0L332.3 75.0L337.8 71.6L343.3 73.1L348.8 76.2L354.3 73.4L359.8 74.4L365.3 73.1L370.8 73.4L376.3 75.0L381.8 75.0L387.3 73.1L392.8 75.0L398.3 76.2L403.8 77.5L409.2 76.2L414.7 78.1L420.2 75.3L425.7 77.2L431.2 78.1" stroke="#2e8b57" stroke-width="0.8" fill="none" stroke-opacity="0.85"/>
<g fill="#2e8b57"><circle cx="326.8" cy="75.0" r="1.75"/><circle cx="332.3" cy="75.0" r="1.75"/><circle cx="337.8" cy="71.6" r="1.75"/><circle cx="343.3" cy="73.1" r="1.75"/><circle cx="348.8" cy="76.2" r="1.75"/><circle cx="354.3" cy="73.4" r="1.75"/><circle cx="359.8" cy="74.4" r="1.75"/><circle cx="365.3" cy="73.1" r="1.75"/><circle cx="370.8" cy="73.4" r="1.75"/><circle cx="376.3" cy="75.0" r="1.75"/><circle cx="381.8" cy="75.0" r="1.75"/><circle cx="387.3" cy="73.1" r="1.75"/><circle cx="392.8" cy="75.0" r="1.75"/><circle cx="398.3" cy="76.2" r="1.75"/><circle cx="403.8" cy="77.5" r="1.75"/><circle cx="409.2" cy="76.2" r="1.75"/><circle cx="414.7" cy="78.1" r="1.75"/><circle cx="420.2" cy="75.3" r="1.75"/><circle cx="425.7" cy="77.2" r="1.75"/><circle cx="431.2" cy="78.1" r="1.75"/></g>
<path d="M354.3 81.6L359.8 80.0L365.3 81.6L370.8 79.4L376.3 80.9L381.8 82.2L387.3 78.1L392.8 80.9L398.3 80.6L403.8 81.9L409.2 81.9L414.7 78.8L420.2 83.8L425.7 85.3L431.2 85.9L436.7 87.8L442.2 85.3L447.7 83.1L453.2 85.6L458.7 85.3" stroke="#ff0000" stroke-width="0.8" fill="none" stroke-opacity="0.85"/>
<g fill="#ff0000"><circle cx="354.3" cy="81.6" r="1.75"/><circle cx="359.8" cy="80.0" r="1.75"/><circle cx="365.3" cy="81.6" r="1.75"/><circle cx="370.8" cy="79.4" r="1.75"/><circle cx="376.3" cy="80.9" r="1.75"/><circle cx="381.8" cy="82.2" r="1.75"/><circle cx="387.3" cy="78.1" r="1.75"/><circle cx="392.8" cy="80.9" r="1.75"/><circle cx="398.3" cy="80.6" r="1.75"/><circle cx="403.8" cy="81.9" r="1.75"/><circle cx="409.2" cy="81.9" r="1.75"/><circle cx="414.7" cy="78.8" r="1.75"/><circle cx="420.2" cy="83.8" r="1.75"/><circle cx="425.7" cy="85.3" r="1.75"/><circle cx="431.2" cy="85.9" r="1.75"/><circle cx="436.7" cy="87.8" r="1.75"/><circle cx="442.2" cy="85.3" r="1.75"/><circle cx="447.7" cy="83.1" r="1.75"/><circle cx="453.2" cy="85.6" r="1.75"/><circle cx="458.7" cy="85.3" r="1.75"/></g>
<path d="M381.8 87.2L387.3 91.6L392.8 87.2L398.3 88.4L403.8 86.2L409.2 88.1L414.7 90.3L420.2 87.8L425.7 91.6L431.2 92.0L436.7 90.9L442.2 89.7L447.7 91.6L453.2 94.7L458.7 92.2L464.2 93.1L469.7 92.2L475.2 90.9L480.7 92.5L486.2 92.5" stroke="#ffe066" stroke-width="0.8" fill="none" stroke-opacity="0.85"/>
<g fill="#ffe066"><circle cx="381.8" cy="87.2" r="1.75"/><circle cx="387.3" cy="91.6" r="1.75"/><circle cx="392.8" cy="87.2" r="1.75"/><circle cx="398.3" cy="88.4" r="1.75"/><circle cx="403.8" cy="86.2" r="1.75"/><circle cx="409.2" cy="88.1" r="1.75"/><circle cx="414.7" cy="90.3" r="1.75"/><circle cx="420.2" cy="87.8" r="1.75"/><circle cx="425.7" cy="91.6" r="1.75"/><circle cx="431.2" cy="92.0" r="1.75"/><circle cx="436.7" cy="90.9" r="1.75"/><circle cx="442.2" cy="89.7" r="1.75"/><circle cx="447.7" cy="91.6" r="1.75"/><circle cx="453.2" cy="94.7" r="1.75"/><circle cx="458.7" cy="92.2" r="1.75"/><circle cx="464.2" cy="93.1" r="1.75"/><circle cx="469.7" cy="92.2" r="1.75"/><circle cx="475.2" cy="90.9" r="1.75"/><circle cx="480.7" cy="92.5" r="1.75"/><circle cx="486.2" cy="92.5" r="1.75"/></g>
<path d="M409.2 102.2L414.7 95.0L420.2 97.8L425.7 99.1L431.2 96.6L436.7 98.4L442.2 99.1L447.7 97.5L453.2 97.5L458.7 100.3L464.2 96.6L469.7 101.6L475.2 99.7L480.7 100.3L486.2 99.7L491.7 102.8L497.2 100.3L502.7 100.9L508.2 104.1L513.7 102.2" stroke="#8c8c8c" stroke-width="0.8" fill="none" stroke-opacity="0.85"/>
<g fill="#8c8c8c"><circle cx="409.2" cy="102.2" r="1.75"/><circle cx="414.7" cy="95.0" r="1.75"/><circle cx="420.2" cy="97.8" r="1.75"/><circle cx="425.7" cy="99.1" r="1.75"/><circle cx="431.2" cy="96.6" r="1.75"/><circle cx="436.7" cy="98.4" r="1.75"/><circle cx="442.2" cy="99.1" r="1.75"/><circle cx="447.7" cy="97.5" r="1.75"/><circle cx="453.2" cy="97.5" r="1.75"/><circle cx="458.7" cy="100.3" r="1.75"/><circle cx="464.2" cy="96.6" r="1.75"/><circle cx="469.7" cy="101.6" r="1.75"/><circle cx="475.2" cy="99.7" r="1.75"/><circle cx="480.7" cy="100.3" r="1.75"/><circle cx="486.2" cy="99.7" r="1.75"/><circle cx="491.7" cy="102.8" r="1.75"/><circle cx="497.2" cy="100.3" r="1.75"/><circle cx="502.7" cy="100.9" r="1.75"/><circle cx="508.2" cy="104.1" r="1.75"/><circle cx="513.7" cy="102.2" r="1.75"/></g>
<path d="M436.7 109.7L442.2 108.4L447.7 104.7L453.2 111.6L458.7 110.0L464.2 106.2L469.7 105.6L475.2 106.2L480.7 105.6L486.2 108.1L491.7 108.4L497.2 108.1L502.7 110.0L508.2 112.5L513.7 113.8L519.1 111.9L524.6 110.6L530.1 111.2L535.6 112.5L541.1 110.6" stroke="#8b4513" stroke-width="0.8" fill="none" stroke-opacity="0.85"/>
<g fill="#8b4513"><circle cx="436.7" cy="109.7" r="1.75"/><circle cx="442.2" cy="108.4" r="1.75"/><circle cx="447.7" cy="104.7" r="1.75"/><circle cx="453.2" cy="111.6" r="1.75"/><circle cx="458.7" cy="110.0" r="1.75"/><circle cx="464.2" cy="106.2" r="1.75"/><circle cx="469.7" cy="105.6" r="1.75"/><circle cx="475.2" cy="106.2" r="1.75"/><circle cx="480.7" cy="105.6" r="1.75"/><circle cx="486.2" cy="108.1" r="1.75"/><circle cx="491.7" cy="108.4" r="1.75"/><circle cx="497.2" cy="108.1" r="1.75"/><circle cx="502.7" cy="110.0" r="1.75"/><circle cx="508.2" cy="112.5" r="1.75"/><circle cx="513.7" cy="113.8" r="1.75"/><circle cx="519.1" cy="111.9" r="1.75"/><circle cx="524.6" cy="110.6" r="1.75"/><circle cx="530.1" cy="111.2" r="1.75"/><circle cx="535.6" cy="112.5" r="1.75"/><circle cx="541.1" cy="110.6" r="1.75"/></g>
<path d="M464.2 118.6L469.7 121.6L475.2 118.8L480.7 114.0L486.2 118.4L491.7 118.4L497.2 125.3L502.7 117.2L508.2 121.2L513.7 120.3L519.1 117.2L524.6 123.1L530.1 122.2L535.6 119.4L541.1 122.8L546.6 127.2L552.1 122.2L557.6 122.8L563.1 130.3L568.6 127.8" stroke="#1e90ff" stroke-width="0.8" fill="none" stroke-opacity="0.85"/>
<g fill="#1e90ff"><circle cx="464.2" cy="118.6" r="1.75"/><circle cx="469.7" cy="121.6" r="1.75"/><circle cx="475.2" cy="118.8" r="1.75"/><circle cx="480.7" cy="114.0" r="1.75"/><circle cx="486.2" cy="118.4" r="1.75"/><circle cx="491.7" cy="118.4" r="1.75"/><circle cx="497.2" cy="125.3" r="1.75"/><circle cx="502.7" cy="117.2" r="1.75"/><circle cx="508.2" cy="121.2" r="1.75"/><circle cx="513.7" cy="120.3" r="1.75"/><circle cx="519.1" cy="117.2" r="1.75"/><circle cx="524.6" cy="123.1" r="1.75"/><circle cx="530.1" cy="122.2" r="1.75"/><circle cx="535.6" cy="119.4" r="1.75"/><circle cx="541.1" cy="122.8" r="1.75"/><circle cx="546.6" cy="127.2" r="1.75"/><circle cx="552.1" cy="122.2" r="1.75"/><circle cx="557.6" cy="122.8" r="1.75"/><circle cx="563.1" cy="130.3" r="1.75"/><circle cx="568.6" cy="127.8" r="1.75"/></g>
<path d="M491.7 133.4L497.2 130.3L502.7 127.5L508.2 131.6L513.7 136.6L519.1 129.1L524.6 131.6L530.1 131.0L535.6 137.8L541.1 131.0L546.6 132.2L552.1 135.3L557.6 142.2L563.1 132.8L568.6 137.8L574.1 132.8L579.6 136.6L585.1 141.2L590.6 141.9L596.1 138.4" stroke="#3de585" stroke-width="0.8" fill="none" stroke-opacity="0.85"/>
<g fill="#3de585"><circle cx="491.7" cy="133.4" r="1.75"/><circle cx="497.2" cy="130.3" r="1.75"/><circle cx="502.7" cy="127.5" r="1.75"/><circle cx="508.2" cy="131.6" r="1.75"/><circle cx="513.7" cy="136.6" r="1.75"/><circle cx="519.1" cy="129.1" r="1.75"/><circle cx="524.6" cy="131.6" r="1.75"/><circle cx="530.1" cy="131.0" r="1.75"/><circle cx="535.6" cy="137.8" r="1.75"/><circle cx="541.1" cy="131.0" r="1.75"/><circle cx="546.6" cy="132.2" r="1.75"/><circle cx="552.1" cy="135.3" r="1.75"/><circle cx="557.6" cy="142.2" r="1.75"/><circle cx="563.1" cy="132.8" r="1.75"/><circle cx="568.6" cy="137.8" r="1.75"/><circle cx="574.1" cy="132.8" r="1.75"/><circle cx="579.6" cy="136.6" r="1.75"/><circle cx="585.1" cy="141.2" r="1.75"/><circle cx="590.6" cy="141.9" r="1.75"/><circle cx="596.1" cy="138.4" r="1.75"/></g>
<path d="M519.1 141.5L524.6 147.5L530.1 144.5L535.6 152.0L541.1 142.3L546.6 145.0L552.1 145.4L557.6 139.4L563.1 149.5L568.6 145.6L574.1 143.0L579.6 143.6L585.1 164.8L590.6 147.8L596.1 164.0L601.6 146.2L607.1 150.6L612.6 146.7L618.1 153.2L623.6 151.9" stroke="#0000cd" stroke-width="0.8" fill="none" stroke-opacity="0.85"/>
<g fill="#0000cd"><circle cx="519.1" cy="141.5" r="1.75"/><circle cx="524.6" cy="147.5" r="1.75"/><circle cx="530.1" cy="144.5" r="1.75"/><circle cx="535.6" cy="152.0" r="1.75"/><circle cx="541.1" cy="142.3" r="1.75"/><circle cx="546.6" cy="145.0" r="1.75"/><circle cx="552.1" cy="145.4" r="1.75"/><circle cx="557.6" cy="139.4" r="1.75"/><circle cx="563.1" cy="149.5" r="1.75"/><circle cx="568.6" cy="145.6" r="1.75"/><circle cx="574.1" cy="143.0" r="1.75"/><circle cx="579.6" cy="143.6" r="1.75"/><circle cx="585.1" cy="164.8" r="1.75"/><circle cx="590.6" cy="147.8" r="1.75"/><circle cx="596.1" cy="164.0" r="1.75"/><circle cx="601.6" cy="146.2" r="1.75"/><circle cx="607.1" cy="150.6" r="1.75"/><circle cx="612.6" cy="146.7" r="1.75"/><circle cx="618.1" cy="153.2" r="1.75"/><circle cx="623.6" cy="151.9" r="1.75"/></g>
<path d="M546.6 160.5L552.1 151.0L557.6 153.8L563.1 153.8L568.6 165.0L574.1 148.8L579.6 150.2L585.1 157.2L590.6 172.3L596.1 164.6L601.6 157.2L607.1 153.8L612.6 160.0L618.1 160.6L623.6 174.4L629.1 169.8L634.5 179.4L640.0 166.2L645.5 178.8L651.0 168.5" stroke="#ffb414" stroke-width="0.8" fill="none" stroke-opacity="0.85"/>
<g fill="#ffb414"><circle cx="546.6" cy="160.5" r="1.75"/><circle cx="552.1" cy="151.0" r="1.75"/><circle cx="557.6" cy="153.8" r="1.75"/><circle cx="563.1" cy="153.8" r="1.75"/><circle cx="568.6" cy="165.0" r="1.75"/><circle cx="574.1" cy="148.8" r="1.75"/><circle cx="579.6" cy="150.2" r="1.75"/><circle cx="585.1" cy="157.2" r="1.75"/><circle cx="590.6" cy="172.3" r="1.75"/><circle cx="596.1" cy="164.6" r="1.75"/><circle cx="601.6" cy="157.2" r="1.75"/><circle cx="607.1" cy="153.8" r="1.75"/><circle cx="612.6" cy="160.0" r="1.75"/><circle cx="618.1" cy="160.6" r="1.75"/><circle cx="623.6" cy="174.4" r="1.75"/><circle cx="629.1" cy="169.8" r="1.75"/><circle cx="634.5" cy="179.4" r="1.75"/><circle cx="640.0" cy="166.2" r="1.75"/><circle cx="645.5" cy="178.8" r="1.75"/><circle cx="651.0" cy="168.5" r="1.75"/></g>
<path d="M574.1 199.4L579.6 164.6L585.1 185.6L590.6 177.5L596.1 172.3L601.6 185.6L607.1 157.8L612.6 173.8L618.1 186.9L623.6 179.8L629.1 179.8L634.5 170.0L640.0 200.0L645.5 186.3M656.5 184.4L662.0 196.9L667.5 183.8L673.0 196.2L678.5 196.2" stroke="#000000" stroke-width="0.8" fill="none" stroke-opacity="0.85"/>
<g fill="#000000"><circle cx="574.1" cy="199.4" r="1.75"/><circle cx="579.6" cy="164.6" r="1.75"/><circle cx="585.1" cy="185.6" r="1.75"/><circle cx="590.6" cy="177.5" r="1.75"/><circle cx="596.1" cy="172.3" r="1.75"/><circle cx="601.6" cy="185.6" r="1.75"/><circle cx="607.1" cy="157.8" r="1.75"/><circle cx="612.6" cy="173.8" r="1.75"/><circle cx="618.1" cy="186.9" r="1.75"/><circle cx="623.6" cy="179.8" r="1.75"/><circle cx="629.1" cy="179.8" r="1.75"/><circle cx="634.5" cy="170.0" r="1.75"/><circle cx="640.0" cy="200.0" r="1.75"/><circle cx="645.5" cy="186.3" r="1.75"/><circle cx="656.5" cy="184.4" r="1.75"/><circle cx="662.0" cy="196.9" r="1.75"/><circle cx="667.5" cy="183.8" r="1.75"/><circle cx="673.0" cy="196.2" r="1.75"/><circle cx="678.5" cy="196.2" r="1.75"/></g>
<path d="M37.50 398.00L43.10 397.62L48.69 397.29L54.29 397.01L59.88 396.78L65.48 396.59L71.08 396.45L76.67 396.36L82.27 396.31L87.86 396.31L93.46 396.36L99.05 396.46L104.65 396.60L110.25 396.79L115.84 397.03L121.44 397.31L127.03 397.64L132.63 398.02L138.23 398.45L143.82 398.92L149.42 399.44L155.01 400.01L160.61 400.63L166.20 401.29L171.80 402.00" stroke="#d0101f" stroke-width="1.2" stroke-dasharray="1.9 3.0" fill="none"/>
<path d="M37.50 399.50L43.10 399.21L48.69 398.96L54.29 398.77L59.88 398.62L65.48 398.52L71.08 398.48L76.67 398.47L82.27 398.52L87.86 398.62L93.46 398.76L99.05 398.96L104.65 399.20L110.25 399.49L115.84 399.83L121.44 400.22L127.03 400.66L132.63 401.14L138.23 401.68L143.82 402.26L149.42 402.89L155.01 403.57L160.61 404.30L166.20 405.07L171.80 405.90" stroke="#d0101f" stroke-width="1.2" stroke-dasharray="1.9 3.0" fill="none"/>
<path d="M37.50 402.00L43.10 401.75L48.69 401.56L54.29 401.43L59.88 401.36L65.48 401.34L71.08 401.38L76.67 401.47L82.27 401.62L87.86 401.83L93.46 402.10L99.05 402.42L104.65 402.80L110.25 403.24L115.84 403.73L121.44 404.28L127.03 404.89L132.63 405.55L138.23 406.28L143.82 407.05L149.42 407.89L155.01 408.78L160.61 409.73L166.20 410.74L171.80 411.80" stroke="#d0101f" stroke-width="1.2" stroke-dasharray="1.9 3.0" fill="none"/>
<path d="M37.50 404.50L43.10 404.64L48.69 404.81L54.29 405.02L59.88 405.27L65.48 405.55L71.08 405.88L76.67 406.24L82.27 406.63L87.86 407.07L93.46 407.54L99.05 408.05L104.65 408.60L110.25 409.19L115.84 409.81L121.44 410.47L127.03 411.17L132.63 411.90L138.23 412.68L143.82 413.49L149.42 414.33L155.01 415.22L160.61 416.14L166.20 417.10L171.80 418.10" stroke="#d0101f" stroke-width="1.2" stroke-dasharray="1.9 3.0" fill="none"/>
<path d="M37.50 411.50L43.10 411.63L48.69 411.80L54.29 412.02L59.88 412.28L65.48 412.59L71.08 412.94L76.67 413.34L82.27 413.78L87.86 414.27L93.46 414.80L99.05 415.38L104.65 416.00L110.25 416.67L115.84 417.38L121.44 418.14L127.03 418.94L132.63 419.79L138.23 420.69L143.82 421.63L149.42 422.61L155.01 423.64L160.61 424.72L166.20 425.84L171.80 427.00" stroke="#d0101f" stroke-width="1.2" stroke-dasharray="1.9 3.0" fill="none"/>
<path d="M37.50 419.20L43.10 419.23L48.69 419.32L54.29 419.47L59.88 419.69L65.48 419.97L71.08 420.31L76.67 420.72L82.27 421.19L87.86 421.72L93.46 422.32L99.05 422.98L104.65 423.70L110.25 424.49L115.84 425.33L121.44 426.25L127.03 427.22L132.63 428.26L138.23 429.36L143.82 430.53L149.42 431.76L155.01 433.05L160.61 434.40L166.20 435.82L171.80 437.30" stroke="#d0101f" stroke-width="1.2" stroke-dasharray="1.9 3.0" fill="none"/>
<path d="M37.50 428.30L43.10 428.51L48.69 428.78L54.29 429.10L59.88 429.49L65.48 429.93L71.08 430.44L76.67 431.00L82.27 431.62L87.86 432.30L93.46 433.04L99.05 433.84L104.65 434.70L110.25 435.62L115.84 436.59L121.44 437.63L127.03 438.72L132.63 439.88L138.23 441.09L143.82 442.36L149.42 443.69L155.01 445.08L160.61 446.53L166.20 448.03L171.80 449.60" stroke="#d0101f" stroke-width="1.2" stroke-dasharray="1.9 3.0" fill="none"/>
<path d="M37.50 437.80L43.10 438.27L48.69 438.79L54.29 439.35L59.88 439.97L65.48 440.63L71.08 441.34L76.67 442.09L82.27 442.90L87.86 443.75L93.46 444.65L99.05 445.60L104.65 446.60L110.25 447.64L115.84 448.74L121.44 449.88L127.03 451.07L132.63 452.30L138.23 453.59L143.82 454.92L149.42 456.30L155.01 457.73L160.61 459.20L166.20 460.73L171.80 462.30" stroke="#d0101f" stroke-width="1.2" stroke-dasharray="1.9 3.0" fill="none"/>
<path d="M37.50 449.30L43.10 449.82L48.69 450.39L54.29 451.02L59.88 451.70L65.48 452.44L71.08 453.24L76.67 454.09L82.27 455.00L87.86 455.97L93.46 456.99L99.05 458.07L104.65 459.20L110.25 460.39L115.84 461.64L121.44 462.94L127.03 464.30L132.63 465.72L138.23 467.19L143.82 468.72L149.42 470.30L155.01 471.94L160.61 473.64L166.20 475.39L171.80 477.20" stroke="#d0101f" stroke-width="1.2" stroke-dasharray="1.9 3.0" fill="none"/>
<path d="M37.50 461.30L43.10 461.91L48.69 462.58L54.29 463.31L59.88 464.10L65.48 464.95L71.08 465.86L76.67 466.83L82.27 467.87L87.86 468.96L93.46 470.11L99.05 471.33L104.65 472.60L110.25 473.93L115.84 475.33L121.44 476.78L127.03 478.30L132.63 479.88L138.23 481.51L143.82 483.21L149.42 484.97L155.01 486.78L160.61 488.66L166.20 490.60L171.80 492.60" stroke="#d0101f" stroke-width="1.2" stroke-dasharray="1.9 3.0" fill="none"/>
<path d="M37.50 473.20L43.10 474.15L48.69 475.15L54.29 476.19L59.88 477.28L65.48 478.40L71.08 479.57L76.67 480.79L82.27 482.04L87.86 483.34L93.46 484.69L99.05 486.07L104.65 487.50L110.25 488.97L115.84 490.49L121.44 492.04L127.03 493.64L132.63 495.29L138.23 496.98L143.82 498.70L149.42 500.48L155.01 502.29L160.61 504.15L166.20 506.05L171.80 508.00" stroke="#d0101f" stroke-width="1.2" stroke-dasharray="1.9 3.0" fill="none"/>
<path d="M37.50 486.10L43.10 487.14L48.69 488.22L54.29 489.35L59.88 490.52L65.48 491.74L71.08 493.01L76.67 494.33L82.27 495.69L87.86 497.10L93.46 498.55L99.05 500.05L104.65 501.60L110.25 503.19L115.84 504.83L121.44 506.52L127.03 508.26L132.63 510.04L138.23 511.86L143.82 513.74L149.42 515.66L155.01 517.62L160.61 519.63L166.20 521.69L171.80 523.80" stroke="#d0101f" stroke-width="1.2" stroke-dasharray="1.9 3.0" fill="none"/>
<path d="M37.50 498.50L43.10 499.55L48.69 500.66L54.29 501.83L59.88 503.06L65.48 504.34L71.08 505.68L76.67 507.07L82.27 508.52L87.86 510.03L93.46 511.60L99.05 513.22L104.65 514.90L110.25 516.64L115.84 518.43L121.44 520.28L127.03 522.19L132.63 524.15L138.23 526.17L143.82 528.25L149.42 530.39L155.01 532.58L160.61 534.83L166.20 537.14L171.80 539.50" stroke="#d0101f" stroke-width="1.2" stroke-dasharray="1.9 3.0" fill="none"/>
<text x="176.2" y="403.90" font-size="5.6" fill="#222" style="stroke-width:0.1px" textLength="7.6" lengthAdjust="spacingAndGlyphs">85+</text>
<text x="176.2" y="408.10" font-size="5.6" fill="#222" style="stroke-width:0.1px" textLength="11.9" lengthAdjust="spacingAndGlyphs">80-84</text>
<text x="176.2" y="413.40" font-size="5.6" fill="#222" style="stroke-width:0.1px" textLength="11.9" lengthAdjust="spacingAndGlyphs">75-79</text>
<text x="176.2" y="420.60" font-size="5.6" fill="#222" style="stroke-width:0.1px" textLength="11.9" lengthAdjust="spacingAndGlyphs">70-74</text>
<text x="176.2" y="428.80" font-size="5.6" fill="#222" style="stroke-width:0.1px" textLength="11.9" lengthAdjust="spacingAndGlyphs">65-69</text>
<text x="176.2" y="439.60" font-size="5.6" fill="#222" style="stroke-width:0.1px" textLength="11.9" lengthAdjust="spacingAndGlyphs">60-64</text>
<text x="176.2" y="450.90" font-size="5.6" fill="#222" style="stroke-width:0.1px" textLength="11.9" lengthAdjust="spacingAndGlyphs">55-59</text>
<text x="176.2" y="464.70" font-size="5.6" fill="#222" style="stroke-width:0.1px" textLength="11.9" lengthAdjust="spacingAndGlyphs">50-54</text>
<text x="176.2" y="479.30" font-size="5.6" fill="#222" style="stroke-width:0.1px" textLength="11.9" lengthAdjust="spacingAndGlyphs">45-49</text>
<text x="176.2" y="494.00" font-size="5.6" fill="#222" style="stroke-width:0.1px" textLength="11.9" lengthAdjust="spacingAndGlyphs">40-44</text>
<text x="176.2" y="509.60" font-size="5.6" fill="#222" style="stroke-width:0.1px" textLength="11.9" lengthAdjust="spacingAndGlyphs">35-39</text>
<text x="176.2" y="525.80" font-size="5.6" fill="#222" style="stroke-width:0.1px" textLength="11.9" lengthAdjust="spacingAndGlyphs">30-34</text>
<text x="176.2" y="540.90" font-size="5.6" fill="#222" style="stroke-width:0.1px" textLength="11.9" lengthAdjust="spacingAndGlyphs">25-29</text>
<path d="M37.5 399.9L42.3 409.3L47.1 399.4L51.9 400.3L56.7 403.4L61.5 395.8L66.3 399.6L71.1 394.2L75.9 393.9L80.7 402.7L85.5 398.8L90.3 392.4L95.1 395.4L99.8 401.9L104.6 396.2L109.4 396.9L114.2 397.5L119.0 395.6L123.8 399.4L128.6 398.4" stroke="#8b0a0a" stroke-width="0.8" fill="none" stroke-opacity="0.85"/>
<g fill="#8b0a0a"><circle cx="37.5" cy="399.9" r="1.75"/><circle cx="42.3" cy="409.3" r="1.75"/><circle cx="47.1" cy="399.4" r="1.75"/><circle cx="51.9" cy="400.3" r="1.75"/><circle cx="56.7" cy="403.4" r="1.75"/><circle cx="61.5" cy="395.8" r="1.75"/><circle cx="66.3" cy="399.6" r="1.75"/><circle cx="71.1" cy="394.2" r="1.75"/><circle cx="75.9" cy="393.9" r="1.75"/><circle cx="80.7" cy="402.7" r="1.75"/><circle cx="85.5" cy="398.8" r="1.75"/><circle cx="90.3" cy="392.4" r="1.75"/><circle cx="95.1" cy="395.4" r="1.75"/><circle cx="99.8" cy="401.9" r="1.75"/><circle cx="104.6" cy="396.2" r="1.75"/><circle cx="109.4" cy="396.9" r="1.75"/><circle cx="114.2" cy="397.5" r="1.75"/><circle cx="119.0" cy="395.6" r="1.75"/><circle cx="123.8" cy="399.4" r="1.75"/><circle cx="128.6" cy="398.4" r="1.75"/></g>
<path d="M37.5 406.2L42.3 404.8L47.1 396.4L51.9 399.6L56.7 395.4L61.5 399.1L66.3 395.8L71.1 399.1L75.9 402.1L80.7 392.4L85.5 397.5L90.3 395.7L95.1 395.7L99.8 399.6L104.6 401.6L109.4 401.3L114.2 401.6L119.0 399.6L123.8 396.2L128.6 397.1" stroke="#8a2be2" stroke-width="0.8" fill="none" stroke-opacity="0.85"/>
<g fill="#8a2be2"><circle cx="37.5" cy="406.2" r="1.75"/><circle cx="42.3" cy="404.8" r="1.75"/><circle cx="47.1" cy="396.4" r="1.75"/><circle cx="51.9" cy="399.6" r="1.75"/><circle cx="56.7" cy="395.4" r="1.75"/><circle cx="61.5" cy="399.1" r="1.75"/><circle cx="66.3" cy="395.8" r="1.75"/><circle cx="71.1" cy="399.1" r="1.75"/><circle cx="75.9" cy="402.1" r="1.75"/><circle cx="80.7" cy="392.4" r="1.75"/><circle cx="85.5" cy="397.5" r="1.75"/><circle cx="90.3" cy="395.7" r="1.75"/><circle cx="95.1" cy="395.7" r="1.75"/><circle cx="99.8" cy="399.6" r="1.75"/><circle cx="104.6" cy="401.6" r="1.75"/><circle cx="109.4" cy="401.3" r="1.75"/><circle cx="114.2" cy="401.6" r="1.75"/><circle cx="119.0" cy="399.6" r="1.75"/><circle cx="123.8" cy="396.2" r="1.75"/><circle cx="128.6" cy="397.1" r="1.75"/></g>
<path d="M37.5 402.1L42.3 401.0L47.1 402.1L51.9 398.8L56.7 401.0L61.5 400.1L66.3 401.8L71.1 402.1L75.9 402.5L80.7 398.1L85.5 403.2L90.3 400.8L95.1 402.5L99.8 404.0L104.6 405.8L109.4 404.4L114.2 407.1L119.0 399.6L123.8 406.1L128.6 403.3" stroke="#ff8a5c" stroke-width="0.8" fill="none" stroke-opacity="0.85"/>
<g fill="#ff8a5c"><circle cx="37.5" cy="402.1" r="1.75"/><circle cx="42.3" cy="401.0" r="1.75"/><circle cx="47.1" cy="402.1" r="1.75"/><circle cx="51.9" cy="398.8" r="1.75"/><circle cx="56.7" cy="401.0" r="1.75"/><circle cx="61.5" cy="400.1" r="1.75"/><circle cx="66.3" cy="401.8" r="1.75"/><circle cx="71.1" cy="402.1" r="1.75"/><circle cx="75.9" cy="402.5" r="1.75"/><circle cx="80.7" cy="398.1" r="1.75"/><circle cx="85.5" cy="403.2" r="1.75"/><circle cx="90.3" cy="400.8" r="1.75"/><circle cx="95.1" cy="402.5" r="1.75"/><circle cx="99.8" cy="404.0" r="1.75"/><circle cx="104.6" cy="405.8" r="1.75"/><circle cx="109.4" cy="404.4" r="1.75"/><circle cx="114.2" cy="407.1" r="1.75"/><circle cx="119.0" cy="399.6" r="1.75"/><circle cx="123.8" cy="406.1" r="1.75"/><circle cx="128.6" cy="403.3" r="1.75"/></g>
<path d="M37.5 406.2L42.3 404.8L47.1 408.5L51.9 406.1L56.7 408.1L61.5 406.9L66.3 403.4L71.1 410.5L75.9 408.3L80.7 409.7L85.5 406.7L90.3 410.4L95.1 406.5L99.8 410.5L104.6 411.6L109.4 409.4L114.2 410.4L119.0 409.4L123.8 411.8L128.6 409.8" stroke="#2e8b57" stroke-width="0.8" fill="none" stroke-opacity="0.85"/>
<g fill="#2e8b57"><circle cx="37.5" cy="406.2" r="1.75"/><circle cx="42.3" cy="404.8" r="1.75"/><circle cx="47.1" cy="408.5" r="1.75"/><circle cx="51.9" cy="406.1" r="1.75"/><circle cx="56.7" cy="408.1" r="1.75"/><circle cx="61.5" cy="406.9" r="1.75"/><circle cx="66.3" cy="403.4" r="1.75"/><circle cx="71.1" cy="410.5" r="1.75"/><circle cx="75.9" cy="408.3" r="1.75"/><circle cx="80.7" cy="409.7" r="1.75"/><circle cx="85.5" cy="406.7" r="1.75"/><circle cx="90.3" cy="410.4" r="1.75"/><circle cx="95.1" cy="406.5" r="1.75"/><circle cx="99.8" cy="410.5" r="1.75"/><circle cx="104.6" cy="411.6" r="1.75"/><circle cx="109.4" cy="409.4" r="1.75"/><circle cx="114.2" cy="410.4" r="1.75"/><circle cx="119.0" cy="409.4" r="1.75"/><circle cx="123.8" cy="411.8" r="1.75"/><circle cx="128.6" cy="409.8" r="1.75"/></g>
<path d="M37.5 408.1L42.3 414.3L47.1 408.5L51.9 414.0L56.7 413.1L61.5 409.7L66.3 413.8L71.1 413.1L75.9 415.0L80.7 413.0L85.5 413.7L90.3 414.7L95.1 419.4L99.8 418.1L104.6 416.7L109.4 417.5L114.2 416.7L119.0 418.5L123.8 421.2L128.6 423.8" stroke="#ff0000" stroke-width="0.8" fill="none" stroke-opacity="0.85"/>
<g fill="#ff0000"><circle cx="37.5" cy="408.1" r="1.75"/><circle cx="42.3" cy="414.3" r="1.75"/><circle cx="47.1" cy="408.5" r="1.75"/><circle cx="51.9" cy="414.0" r="1.75"/><circle cx="56.7" cy="413.1" r="1.75"/><circle cx="61.5" cy="409.7" r="1.75"/><circle cx="66.3" cy="413.8" r="1.75"/><circle cx="71.1" cy="413.1" r="1.75"/><circle cx="75.9" cy="415.0" r="1.75"/><circle cx="80.7" cy="413.0" r="1.75"/><circle cx="85.5" cy="413.7" r="1.75"/><circle cx="90.3" cy="414.7" r="1.75"/><circle cx="95.1" cy="419.4" r="1.75"/><circle cx="99.8" cy="418.1" r="1.75"/><circle cx="104.6" cy="416.7" r="1.75"/><circle cx="109.4" cy="417.5" r="1.75"/><circle cx="114.2" cy="416.7" r="1.75"/><circle cx="119.0" cy="418.5" r="1.75"/><circle cx="123.8" cy="421.2" r="1.75"/><circle cx="128.6" cy="423.8" r="1.75"/></g>
<path d="M37.5 416.7L42.3 421.1L47.1 418.6L51.9 416.2L56.7 416.1L61.5 420.5L66.3 420.7L71.1 417.5L75.9 417.5L80.7 418.1L85.5 427.1L90.3 429.7L95.1 428.1L99.8 428.1L104.6 424.4L109.4 426.9L114.2 425.6L119.0 424.4L123.8 425.6L128.6 427.2" stroke="#ffe066" stroke-width="0.8" fill="none" stroke-opacity="0.85"/>
<g fill="#ffe066"><circle cx="37.5" cy="416.7" r="1.75"/><circle cx="42.3" cy="421.1" r="1.75"/><circle cx="47.1" cy="418.6" r="1.75"/><circle cx="51.9" cy="416.2" r="1.75"/><circle cx="56.7" cy="416.1" r="1.75"/><circle cx="61.5" cy="420.5" r="1.75"/><circle cx="66.3" cy="420.7" r="1.75"/><circle cx="71.1" cy="417.5" r="1.75"/><circle cx="75.9" cy="417.5" r="1.75"/><circle cx="80.7" cy="418.1" r="1.75"/><circle cx="85.5" cy="427.1" r="1.75"/><circle cx="90.3" cy="429.7" r="1.75"/><circle cx="95.1" cy="428.1" r="1.75"/><circle cx="99.8" cy="428.1" r="1.75"/><circle cx="104.6" cy="424.4" r="1.75"/><circle cx="109.4" cy="426.9" r="1.75"/><circle cx="114.2" cy="425.6" r="1.75"/><circle cx="119.0" cy="424.4" r="1.75"/><circle cx="123.8" cy="425.6" r="1.75"/><circle cx="128.6" cy="427.2" r="1.75"/></g>
<path d="M37.5 428.2L42.3 423.8L47.1 426.9L51.9 426.9L56.7 426.2L61.5 432.5L66.3 430.6L71.1 431.2L75.9 428.8L80.7 434.4L85.5 424.4L90.3 433.1L95.1 433.1L99.8 435.9L104.6 435.3L109.4 440.0L114.2 435.9L119.0 444.7L123.8 430.6L128.6 444.7" stroke="#8c8c8c" stroke-width="0.8" fill="none" stroke-opacity="0.85"/>
<g fill="#8c8c8c"><circle cx="37.5" cy="428.2" r="1.75"/><circle cx="42.3" cy="423.8" r="1.75"/><circle cx="47.1" cy="426.9" r="1.75"/><circle cx="51.9" cy="426.9" r="1.75"/><circle cx="56.7" cy="426.2" r="1.75"/><circle cx="61.5" cy="432.5" r="1.75"/><circle cx="66.3" cy="430.6" r="1.75"/><circle cx="71.1" cy="431.2" r="1.75"/><circle cx="75.9" cy="428.8" r="1.75"/><circle cx="80.7" cy="434.4" r="1.75"/><circle cx="85.5" cy="424.4" r="1.75"/><circle cx="90.3" cy="433.1" r="1.75"/><circle cx="95.1" cy="433.1" r="1.75"/><circle cx="99.8" cy="435.9" r="1.75"/><circle cx="104.6" cy="435.3" r="1.75"/><circle cx="109.4" cy="440.0" r="1.75"/><circle cx="114.2" cy="435.9" r="1.75"/><circle cx="119.0" cy="444.7" r="1.75"/><circle cx="123.8" cy="430.6" r="1.75"/><circle cx="128.6" cy="444.7" r="1.75"/></g>
<path d="M37.5 438.8L42.3 444.1L47.1 443.8L51.9 443.4L56.7 436.6L61.5 435.3L66.3 442.2L71.1 441.6L75.9 435.9L80.7 438.4L85.5 440.9L90.3 445.9L95.1 442.8L99.8 441.2L104.6 443.4L109.4 451.2L114.2 453.8L119.0 448.1L123.8 449.4L128.6 453.1" stroke="#8b4513" stroke-width="0.8" fill="none" stroke-opacity="0.85"/>
<g fill="#8b4513"><circle cx="37.5" cy="438.8" r="1.75"/><circle cx="42.3" cy="444.1" r="1.75"/><circle cx="47.1" cy="443.8" r="1.75"/><circle cx="51.9" cy="443.4" r="1.75"/><circle cx="56.7" cy="436.6" r="1.75"/><circle cx="61.5" cy="435.3" r="1.75"/><circle cx="66.3" cy="442.2" r="1.75"/><circle cx="71.1" cy="441.6" r="1.75"/><circle cx="75.9" cy="435.9" r="1.75"/><circle cx="80.7" cy="438.4" r="1.75"/><circle cx="85.5" cy="440.9" r="1.75"/><circle cx="90.3" cy="445.9" r="1.75"/><circle cx="95.1" cy="442.8" r="1.75"/><circle cx="99.8" cy="441.2" r="1.75"/><circle cx="104.6" cy="443.4" r="1.75"/><circle cx="109.4" cy="451.2" r="1.75"/><circle cx="114.2" cy="453.8" r="1.75"/><circle cx="119.0" cy="448.1" r="1.75"/><circle cx="123.8" cy="449.4" r="1.75"/><circle cx="128.6" cy="453.1" r="1.75"/></g>
<path d="M37.5 453.1L42.3 458.1L47.1 451.2L51.9 451.9L56.7 446.6L61.5 456.2L66.3 451.9L71.1 449.7L75.9 463.1L80.7 458.1L85.5 446.9L90.3 451.2L95.1 458.8L99.8 458.4L104.6 455.6L109.4 458.8L114.2 461.9L119.0 469.1L123.8 462.6L128.6 462.6" stroke="#1e90ff" stroke-width="0.8" fill="none" stroke-opacity="0.85"/>
<g fill="#1e90ff"><circle cx="37.5" cy="453.1" r="1.75"/><circle cx="42.3" cy="458.1" r="1.75"/><circle cx="47.1" cy="451.2" r="1.75"/><circle cx="51.9" cy="451.9" r="1.75"/><circle cx="56.7" cy="446.6" r="1.75"/><circle cx="61.5" cy="456.2" r="1.75"/><circle cx="66.3" cy="451.9" r="1.75"/><circle cx="71.1" cy="449.7" r="1.75"/><circle cx="75.9" cy="463.1" r="1.75"/><circle cx="80.7" cy="458.1" r="1.75"/><circle cx="85.5" cy="446.9" r="1.75"/><circle cx="90.3" cy="451.2" r="1.75"/><circle cx="95.1" cy="458.8" r="1.75"/><circle cx="99.8" cy="458.4" r="1.75"/><circle cx="104.6" cy="455.6" r="1.75"/><circle cx="109.4" cy="458.8" r="1.75"/><circle cx="114.2" cy="461.9" r="1.75"/><circle cx="119.0" cy="469.1" r="1.75"/><circle cx="123.8" cy="462.6" r="1.75"/><circle cx="128.6" cy="462.6" r="1.75"/></g>
<path d="M37.5 467.2L42.3 473.4L47.1 467.1L51.9 460.3L56.7 462.5L61.5 470.8L66.3 469.0L71.1 462.2L75.9 471.0L80.7 463.4L85.5 470.8L90.3 469.2L95.1 472.8L99.8 478.1L104.6 475.2L109.4 472.8L114.2 493.2L119.0 477.3L123.8 482.6L128.6 477.5" stroke="#3de585" stroke-width="0.8" fill="none" stroke-opacity="0.85"/>
<g fill="#3de585"><circle cx="37.5" cy="467.2" r="1.75"/><circle cx="42.3" cy="473.4" r="1.75"/><circle cx="47.1" cy="467.1" r="1.75"/><circle cx="51.9" cy="460.3" r="1.75"/><circle cx="56.7" cy="462.5" r="1.75"/><circle cx="61.5" cy="470.8" r="1.75"/><circle cx="66.3" cy="469.0" r="1.75"/><circle cx="71.1" cy="462.2" r="1.75"/><circle cx="75.9" cy="471.0" r="1.75"/><circle cx="80.7" cy="463.4" r="1.75"/><circle cx="85.5" cy="470.8" r="1.75"/><circle cx="90.3" cy="469.2" r="1.75"/><circle cx="95.1" cy="472.8" r="1.75"/><circle cx="99.8" cy="478.1" r="1.75"/><circle cx="104.6" cy="475.2" r="1.75"/><circle cx="109.4" cy="472.8" r="1.75"/><circle cx="114.2" cy="493.2" r="1.75"/><circle cx="119.0" cy="477.3" r="1.75"/><circle cx="123.8" cy="482.6" r="1.75"/><circle cx="128.6" cy="477.5" r="1.75"/></g>
<path d="M37.5 501.4L42.3 480.2L47.1 469.7L51.9 473.5L56.7 475.5L61.5 484.3L66.3 488.1L71.1 483.4L75.9 477.4L80.7 487.7L85.5 477.3L90.3 479.8L95.1 483.8L99.8 480.1L104.6 513.8L109.4 480.6L114.2 484.3L119.0 494.4L123.8 485.5L128.6 502.7" stroke="#0000cd" stroke-width="0.8" fill="none" stroke-opacity="0.85"/>
<g fill="#0000cd"><circle cx="37.5" cy="501.4" r="1.75"/><circle cx="42.3" cy="480.2" r="1.75"/><circle cx="47.1" cy="469.7" r="1.75"/><circle cx="51.9" cy="473.5" r="1.75"/><circle cx="56.7" cy="475.5" r="1.75"/><circle cx="61.5" cy="484.3" r="1.75"/><circle cx="66.3" cy="488.1" r="1.75"/><circle cx="71.1" cy="483.4" r="1.75"/><circle cx="75.9" cy="477.4" r="1.75"/><circle cx="80.7" cy="487.7" r="1.75"/><circle cx="85.5" cy="477.3" r="1.75"/><circle cx="90.3" cy="479.8" r="1.75"/><circle cx="95.1" cy="483.8" r="1.75"/><circle cx="99.8" cy="480.1" r="1.75"/><circle cx="104.6" cy="513.8" r="1.75"/><circle cx="109.4" cy="480.6" r="1.75"/><circle cx="114.2" cy="484.3" r="1.75"/><circle cx="119.0" cy="494.4" r="1.75"/><circle cx="123.8" cy="485.5" r="1.75"/><circle cx="128.6" cy="502.7" r="1.75"/></g>
<path d="M37.5 484.7L42.3 501.4L47.1 494.0L51.9 514.2L56.7 493.4L61.5 493.4L66.3 493.2L71.1 483.0L75.9 492.9L80.7 487.5L85.5 493.5L90.3 494.0L95.1 515.1L99.8 502.5L104.6 495.1L109.4 490.2M119.0 515.5L123.8 494.0L128.6 514.3" stroke="#ffb414" stroke-width="0.8" fill="none" stroke-opacity="0.85"/>
<g fill="#ffb414"><circle cx="37.5" cy="484.7" r="1.75"/><circle cx="42.3" cy="501.4" r="1.75"/><circle cx="47.1" cy="494.0" r="1.75"/><circle cx="51.9" cy="514.2" r="1.75"/><circle cx="56.7" cy="493.4" r="1.75"/><circle cx="61.5" cy="493.4" r="1.75"/><circle cx="66.3" cy="493.2" r="1.75"/><circle cx="71.1" cy="483.0" r="1.75"/><circle cx="75.9" cy="492.9" r="1.75"/><circle cx="80.7" cy="487.5" r="1.75"/><circle cx="85.5" cy="493.5" r="1.75"/><circle cx="90.3" cy="494.0" r="1.75"/><circle cx="95.1" cy="515.1" r="1.75"/><circle cx="99.8" cy="502.5" r="1.75"/><circle cx="104.6" cy="495.1" r="1.75"/><circle cx="109.4" cy="490.2" r="1.75"/><circle cx="119.0" cy="515.5" r="1.75"/><circle cx="123.8" cy="494.0" r="1.75"/><circle cx="128.6" cy="514.3" r="1.75"/></g>
<path d="M37.5 513.8L42.3 492.5L47.1 486.8M80.7 494.5L85.5 515.6M119.0 490.7L123.8 511.2L128.6 511.4" stroke="#000000" stroke-width="0.8" fill="none" stroke-opacity="0.85"/>
<g fill="#000000"><circle cx="37.5" cy="513.8" r="1.75"/><circle cx="42.3" cy="492.5" r="1.75"/><circle cx="47.1" cy="486.8" r="1.75"/><circle cx="80.7" cy="494.5" r="1.75"/><circle cx="85.5" cy="515.6" r="1.75"/><circle cx="95.1" cy="515.5" r="1.75"/><circle cx="104.6" cy="514.2" r="1.75"/><circle cx="119.0" cy="490.7" r="1.75"/><circle cx="123.8" cy="511.2" r="1.75"/><circle cx="128.6" cy="511.4" r="1.75"/></g>
<path d="M244.40 398.00L252.68 398.01L260.97 398.04L269.25 398.10L277.53 398.18L285.82 398.27L294.10 398.39L302.38 398.54L310.67 398.70L318.95 398.89L327.23 399.09L335.52 399.32L343.80 399.57L352.08 399.85L360.37 400.14L368.65 400.46L376.93 400.80L385.22 401.16L393.50 401.54L401.78 401.95L410.07 402.38L418.35 402.82L426.63 403.29L434.92 403.79L443.20 404.30" stroke="#d0101f" stroke-width="1.2" stroke-dasharray="1.9 3.0" fill="none"/>
<text x="449.2" y="406.80" font-size="5.6" fill="#222" style="stroke-width:0.1px" textLength="7.6" lengthAdjust="spacingAndGlyphs">85+</text>
<path d="M271.88 399.50L280.10 399.52L288.32 399.57L296.54 399.66L304.76 399.78L312.98 399.93L321.21 400.12L329.43 400.35L337.65 400.61L345.87 400.91L354.09 401.24L362.32 401.60L370.54 402.00L378.76 402.43L386.98 402.90L395.20 403.41L403.42 403.94L411.65 404.52L419.87 405.12L428.09 405.77L436.31 406.44L444.53 407.16L452.76 407.90L460.98 408.68L469.20 409.50" stroke="#d0101f" stroke-width="1.2" stroke-dasharray="1.9 3.0" fill="none"/>
<text x="475.2" y="412.00" font-size="5.6" fill="#222" style="stroke-width:0.1px" textLength="11.9" lengthAdjust="spacingAndGlyphs">80-84</text>
<path d="M299.35 402.00L307.56 402.02L315.77 402.10L323.98 402.22L332.19 402.39L340.40 402.61L348.61 402.88L356.82 403.20L365.03 403.57L373.24 403.98L381.45 404.45L389.66 404.96L397.88 405.52L406.09 406.14L414.30 406.80L422.51 407.51L430.72 408.27L438.93 409.07L447.14 409.93L455.35 410.84L463.56 411.79L471.77 412.80L479.98 413.85L488.19 414.95L496.40 416.10" stroke="#d0101f" stroke-width="1.2" stroke-dasharray="1.9 3.0" fill="none"/>
<text x="502.4" y="418.60" font-size="5.6" fill="#222" style="stroke-width:0.1px" textLength="11.9" lengthAdjust="spacingAndGlyphs">75-79</text>
<path d="M326.82 404.50L335.47 404.75L344.11 405.07L352.75 405.45L361.39 405.91L370.03 406.43L378.67 407.03L387.31 407.69L395.95 408.42L404.59 409.22L413.23 410.09L421.87 411.03L430.51 412.04L439.15 413.11L447.79 414.26L456.43 415.47L465.08 416.75L473.72 418.11L482.36 419.53L491.00 421.02L499.64 422.58L508.28 424.20L516.92 425.90L525.56 427.67L534.20 429.50" stroke="#d0101f" stroke-width="1.2" stroke-dasharray="1.9 3.0" fill="none"/>
<text x="540.2" y="432.00" font-size="5.6" fill="#222" style="stroke-width:0.1px" textLength="11.9" lengthAdjust="spacingAndGlyphs">70-74</text>
<path d="M354.30 411.50L362.93 411.73L371.57 412.05L380.20 412.45L388.83 412.93L397.47 413.50L406.10 414.14L414.73 414.87L423.37 415.69L432.00 416.59L440.63 417.57L449.27 418.63L457.90 419.77L466.53 421.00L475.17 422.32L483.80 423.71L492.43 425.19L501.07 426.75L509.70 428.39L518.33 430.12L526.97 431.93L535.60 433.82L544.23 435.80L552.87 437.86L561.50 440.00" stroke="#d0101f" stroke-width="1.2" stroke-dasharray="1.9 3.0" fill="none"/>
<text x="567.5" y="442.50" font-size="5.6" fill="#222" style="stroke-width:0.1px" textLength="11.9" lengthAdjust="spacingAndGlyphs">65-69</text>
<path d="M381.77 419.20L390.39 419.26L399.00 419.42L407.62 419.70L416.23 420.09L424.84 420.59L433.46 421.21L442.07 421.93L450.68 422.77L459.30 423.71L467.91 424.77L476.52 425.94L485.14 427.23L493.75 428.62L502.36 430.12L510.98 431.74L519.59 433.47L528.21 435.31L536.82 437.26L545.43 439.32L554.05 441.49L562.66 443.78L571.27 446.17L579.89 448.68L588.50 451.30" stroke="#d0101f" stroke-width="1.2" stroke-dasharray="1.9 3.0" fill="none"/>
<text x="594.5" y="453.80" font-size="5.6" fill="#222" style="stroke-width:0.1px" textLength="11.9" lengthAdjust="spacingAndGlyphs">60-64</text>
<path d="M409.25 428.30L417.88 428.65L426.50 429.10L435.13 429.64L443.76 430.29L452.39 431.03L461.01 431.87L469.64 432.81L478.27 433.85L486.89 434.99L495.52 436.23L504.15 437.56L512.77 439.00L521.40 440.53L530.03 442.16L538.66 443.89L547.28 445.72L555.91 447.65L564.54 449.67L573.16 451.80L581.79 454.02L590.42 456.34L599.05 458.76L607.67 461.28L616.30 463.90" stroke="#d0101f" stroke-width="1.2" stroke-dasharray="1.9 3.0" fill="none"/>
<text x="622.3" y="466.40" font-size="5.6" fill="#222" style="stroke-width:0.1px" textLength="11.9" lengthAdjust="spacingAndGlyphs">55-59</text>
<path d="M436.73 437.80L445.34 438.56L453.96 439.40L462.57 440.32L471.19 441.31L479.80 442.38L488.42 443.53L497.03 444.76L505.65 446.06L514.27 447.45L522.88 448.91L531.50 450.44L540.11 452.06L548.73 453.75L557.34 455.52L565.96 457.37L574.58 459.30L583.19 461.30L591.81 463.38L600.42 465.54L609.04 467.78L617.65 470.09L626.27 472.48L634.88 474.95L643.50 477.50" stroke="#d0101f" stroke-width="1.2" stroke-dasharray="1.9 3.0" fill="none"/>
<text x="649.5" y="480.00" font-size="5.6" fill="#222" style="stroke-width:0.1px" textLength="11.9" lengthAdjust="spacingAndGlyphs">50-54</text>
<path d="M464.20 449.30L472.83 450.12L481.46 451.03L490.09 452.04L498.72 453.13L507.35 454.31L515.98 455.58L524.60 456.94L533.23 458.39L541.86 459.93L550.49 461.56L559.12 463.28L567.75 465.09L576.38 466.99L585.01 468.98L593.64 471.06L602.27 473.22L610.90 475.48L619.52 477.83L628.15 480.27L636.78 482.79L645.41 485.41L654.04 488.12L662.67 490.91L671.30 493.80" stroke="#d0101f" stroke-width="1.2" stroke-dasharray="1.9 3.0" fill="none"/>
<text x="677.3" y="496.30" font-size="5.6" fill="#222" style="stroke-width:0.1px" textLength="11.9" lengthAdjust="spacingAndGlyphs">45-49</text>
<path d="M491.68 461.30L500.31 462.24L508.95 463.28L517.59 464.41L526.23 465.63L534.87 466.95L543.51 468.36L552.14 469.86L560.78 471.45L569.42 473.14L578.06 474.93L586.70 476.80L595.34 478.77L603.98 480.84L612.61 482.99L621.25 485.24L629.89 487.59L638.53 490.02L647.17 492.56L655.81 495.18L664.45 497.90L673.08 500.71L681.72 503.61L690.36 506.61L699.00 509.70" stroke="#d0101f" stroke-width="1.2" stroke-dasharray="1.9 3.0" fill="none"/>
<text x="705" y="512.20" font-size="5.6" fill="#222" style="stroke-width:0.1px" textLength="11.9" lengthAdjust="spacingAndGlyphs">40-44</text>
<path d="M519.15 473.20L527.77 474.68L536.39 476.22L545.01 477.84L553.62 479.52L562.24 481.26L570.86 483.07L579.48 484.95L588.10 486.90L596.72 488.91L605.34 490.99L613.96 493.14L622.58 495.35L631.19 497.63L639.81 499.97L648.43 502.39L657.05 504.87L665.67 507.41L674.29 510.02L682.91 512.70L691.52 515.45L700.14 518.26L708.76 521.14L717.38 524.09L726.00 527.10" stroke="#d0101f" stroke-width="1.2" stroke-dasharray="1.9 3.0" fill="none"/>
<text x="732" y="529.60" font-size="5.6" fill="#222" style="stroke-width:0.1px" textLength="11.9" lengthAdjust="spacingAndGlyphs">35-39</text>
<path d="M546.62 486.10L555.26 487.69L563.89 489.34L572.52 491.07L581.15 492.87L589.79 494.74L598.42 496.68L607.05 498.69L615.68 500.78L624.32 502.93L632.95 505.16L641.58 507.45L650.21 509.82L658.84 512.26L667.48 514.77L676.11 517.36L684.74 520.01L693.37 522.73L702.01 525.53L710.64 528.40L719.27 531.33L727.90 534.34L736.54 537.43L745.17 540.58L753.80 543.80" stroke="#d0101f" stroke-width="1.2" stroke-dasharray="1.9 3.0" fill="none"/>
<text x="759.8" y="546.30" font-size="5.6" fill="#222" style="stroke-width:0.1px" textLength="11.9" lengthAdjust="spacingAndGlyphs">30-34</text>
<path d="M574.10 498.50L582.72 500.08L591.34 501.75L599.96 503.50L608.58 505.34L617.20 507.27L625.83 509.28L634.45 511.38L643.07 513.56L651.69 515.82L660.31 518.18L668.93 520.62L677.55 523.14L686.17 525.75L694.79 528.44L703.41 531.23L712.03 534.09L720.65 537.04L729.27 540.08L737.90 543.20L746.52 546.41L755.14 549.71L763.76 553.08L772.38 556.55L781.00 560.10" stroke="#d0101f" stroke-width="1.2" stroke-dasharray="1.9 3.0" fill="none"/>
<text x="787" y="562.60" font-size="5.6" fill="#222" style="stroke-width:0.1px" textLength="11.9" lengthAdjust="spacingAndGlyphs">25-29</text>
<path d="M244.4 399.9L249.9 409.3L255.4 399.4L260.9 400.3L266.4 403.4L271.9 395.8L277.4 399.6L282.9 394.2L288.4 393.9L293.9 402.7L299.4 398.8L304.8 392.4L310.3 395.4L315.8 401.9L321.3 396.2L326.8 396.9L332.3 397.5L337.8 395.6L343.3 399.4L348.8 398.4" stroke="#8b0a0a" stroke-width="0.8" fill="none" stroke-opacity="0.85"/>
<g fill="#8b0a0a"><circle cx="244.4" cy="399.9" r="1.75"/><circle cx="249.9" cy="409.3" r="1.75"/><circle cx="255.4" cy="399.4" r="1.75"/><circle cx="260.9" cy="400.3" r="1.75"/><circle cx="266.4" cy="403.4" r="1.75"/><circle cx="271.9" cy="395.8" r="1.75"/><circle cx="277.4" cy="399.6" r="1.75"/><circle cx="282.9" cy="394.2" r="1.75"/><circle cx="288.4" cy="393.9" r="1.75"/><circle cx="293.9" cy="402.7" r="1.75"/><circle cx="299.4" cy="398.8" r="1.75"/><circle cx="304.8" cy="392.4" r="1.75"/><circle cx="310.3" cy="395.4" r="1.75"/><circle cx="315.8" cy="401.9" r="1.75"/><circle cx="321.3" cy="396.2" r="1.75"/><circle cx="326.8" cy="396.9" r="1.75"/><circle cx="332.3" cy="397.5" r="1.75"/><circle cx="337.8" cy="395.6" r="1.75"/><circle cx="343.3" cy="399.4" r="1.75"/><circle cx="348.8" cy="398.4" r="1.75"/></g>
<path d="M271.9 406.2L277.4 404.8L282.9 396.4L288.4 399.6L293.9 395.4L299.4 399.1L304.8 395.8L310.3 399.1L315.8 402.1L321.3 392.4L326.8 397.5L332.3 395.7L337.8 395.7L343.3 399.6L348.8 401.6L354.3 401.3L359.8 401.6L365.3 399.6L370.8 396.2L376.3 397.1" stroke="#8a2be2" stroke-width="0.8" fill="none" stroke-opacity="0.85"/>
<g fill="#8a2be2"><circle cx="271.9" cy="406.2" r="1.75"/><circle cx="277.4" cy="404.8" r="1.75"/><circle cx="282.9" cy="396.4" r="1.75"/><circle cx="288.4" cy="399.6" r="1.75"/><circle cx="293.9" cy="395.4" r="1.75"/><circle cx="299.4" cy="399.1" r="1.75"/><circle cx="304.8" cy="395.8" r="1.75"/><circle cx="310.3" cy="399.1" r="1.75"/><circle cx="315.8" cy="402.1" r="1.75"/><circle cx="321.3" cy="392.4" r="1.75"/><circle cx="326.8" cy="397.5" r="1.75"/><circle cx="332.3" cy="395.7" r="1.75"/><circle cx="337.8" cy="395.7" r="1.75"/><circle cx="343.3" cy="399.6" r="1.75"/><circle cx="348.8" cy="401.6" r="1.75"/><circle cx="354.3" cy="401.3" r="1.75"/><circle cx="359.8" cy="401.6" r="1.75"/><circle cx="365.3" cy="399.6" r="1.75"/><circle cx="370.8" cy="396.2" r="1.75"/><circle cx="376.3" cy="397.1" r="1.75"/></g>
<path d="M299.4 402.1L304.8 401.0L310.3 402.1L315.8 398.8L321.3 401.0L326.8 400.1L332.3 401.8L337.8 402.1L343.3 402.5L348.8 398.1L354.3 403.2L359.8 400.8L365.3 402.5L370.8 404.0L376.3 405.8L381.8 404.4L387.3 407.1L392.8 399.6L398.3 406.1L403.8 403.3" stroke="#ff8a5c" stroke-width="0.8" fill="none" stroke-opacity="0.85"/>
<g fill="#ff8a5c"><circle cx="299.4" cy="402.1" r="1.75"/><circle cx="304.8" cy="401.0" r="1.75"/><circle cx="310.3" cy="402.1" r="1.75"/><circle cx="315.8" cy="398.8" r="1.75"/><circle cx="321.3" cy="401.0" r="1.75"/><circle cx="326.8" cy="400.1" r="1.75"/><circle cx="332.3" cy="401.8" r="1.75"/><circle cx="337.8" cy="402.1" r="1.75"/><circle cx="343.3" cy="402.5" r="1.75"/><circle cx="348.8" cy="398.1" r="1.75"/><circle cx="354.3" cy="403.2" r="1.75"/><circle cx="359.8" cy="400.8" r="1.75"/><circle cx="365.3" cy="402.5" r="1.75"/><circle cx="370.8" cy="404.0" r="1.75"/><circle cx="376.3" cy="405.8" r="1.75"/><circle cx="381.8" cy="404.4" r="1.75"/><circle cx="387.3" cy="407.1" r="1.75"/><circle cx="392.8" cy="399.6" r="1.75"/><circle cx="398.3" cy="406.1" r="1.75"/><circle cx="403.8" cy="403.3" r="1.75"/></g>
<path d="M326.8 406.2L332.3 404.8L337.8 408.5L343.3 406.1L348.8 408.1L354.3 406.9L359.8 403.4L365.3 410.5L370.8 408.3L376.3 409.7L381.8 406.7L387.3 410.4L392.8 406.5L398.3 410.5L403.8 411.6L409.2 409.4L414.7 410.4L420.2 409.4L425.7 411.8L431.2 409.8" stroke="#2e8b57" stroke-width="0.8" fill="none" stroke-opacity="0.85"/>
<g fill="#2e8b57"><circle cx="326.8" cy="406.2" r="1.75"/><circle cx="332.3" cy="404.8" r="1.75"/><circle cx="337.8" cy="408.5" r="1.75"/><circle cx="343.3" cy="406.1" r="1.75"/><circle cx="348.8" cy="408.1" r="1.75"/><circle cx="354.3" cy="406.9" r="1.75"/><circle cx="359.8" cy="403.4" r="1.75"/><circle cx="365.3" cy="410.5" r="1.75"/><circle cx="370.8" cy="408.3" r="1.75"/><circle cx="376.3" cy="409.7" r="1.75"/><circle cx="381.8" cy="406.7" r="1.75"/><circle cx="387.3" cy="410.4" r="1.75"/><circle cx="392.8" cy="406.5" r="1.75"/><circle cx="398.3" cy="410.5" r="1.75"/><circle cx="403.8" cy="411.6" r="1.75"/><circle cx="409.2" cy="409.4" r="1.75"/><circle cx="414.7" cy="410.4" r="1.75"/><circle cx="420.2" cy="409.4" r="1.75"/><circle cx="425.7" cy="411.8" r="1.75"/><circle cx="431.2" cy="409.8" r="1.75"/></g>
<path d="M354.3 408.1L359.8 414.3L365.3 408.5L370.8 414.0L376.3 413.1L381.8 409.7L387.3 413.8L392.8 413.1L398.3 415.0L403.8 413.0L409.2 413.7L414.7 414.7L420.2 419.4L425.7 418.1L431.2 416.7L436.7 417.5L442.2 416.7L447.7 418.5L453.2 421.2L458.7 423.8" stroke="#ff0000" stroke-width="0.8" fill="none" stroke-opacity="0.85"/>
<g fill="#ff0000"><circle cx="354.3" cy="408.1" r="1.75"/><circle cx="359.8" cy="414.3" r="1.75"/><circle cx="365.3" cy="408.5" r="1.75"/><circle cx="370.8" cy="414.0" r="1.75"/><circle cx="376.3" cy="413.1" r="1.75"/><circle cx="381.8" cy="409.7" r="1.75"/><circle cx="387.3" cy="413.8" r="1.75"/><circle cx="392.8" cy="413.1" r="1.75"/><circle cx="398.3" cy="415.0" r="1.75"/><circle cx="403.8" cy="413.0" r="1.75"/><circle cx="409.2" cy="413.7" r="1.75"/><circle cx="414.7" cy="414.7" r="1.75"/><circle cx="420.2" cy="419.4" r="1.75"/><circle cx="425.7" cy="418.1" r="1.75"/><circle cx="431.2" cy="416.7" r="1.75"/><circle cx="436.7" cy="417.5" r="1.75"/><circle cx="442.2" cy="416.7" r="1.75"/><circle cx="447.7" cy="418.5" r="1.75"/><circle cx="453.2" cy="421.2" r="1.75"/><circle cx="458.7" cy="423.8" r="1.75"/></g>
<path d="M381.8 416.7L387.3 421.1L392.8 418.6L398.3 416.2L403.8 416.1L409.2 420.5L414.7 420.7L420.2 417.5L425.7 417.5L431.2 418.1L436.7 427.1L442.2 429.7L447.7 428.1L453.2 428.1L458.7 424.4L464.2 426.9L469.7 425.6L475.2 424.4L480.7 425.6L486.2 427.2" stroke="#ffe066" stroke-width="0.8" fill="none" stroke-opacity="0.85"/>
<g fill="#ffe066"><circle cx="381.8" cy="416.7" r="1.75"/><circle cx="387.3" cy="421.1" r="1.75"/><circle cx="392.8" cy="418.6" r="1.75"/><circle cx="398.3" cy="416.2" r="1.75"/><circle cx="403.8" cy="416.1" r="1.75"/><circle cx="409.2" cy="420.5" r="1.75"/><circle cx="414.7" cy="420.7" r="1.75"/><circle cx="420.2" cy="417.5" r="1.75"/><circle cx="425.7" cy="417.5" r="1.75"/><circle cx="431.2" cy="418.1" r="1.75"/><circle cx="436.7" cy="427.1" r="1.75"/><circle cx="442.2" cy="429.7" r="1.75"/><circle cx="447.7" cy="428.1" r="1.75"/><circle cx="453.2" cy="428.1" r="1.75"/><circle cx="458.7" cy="424.4" r="1.75"/><circle cx="464.2" cy="426.9" r="1.75"/><circle cx="469.7" cy="425.6" r="1.75"/><circle cx="475.2" cy="424.4" r="1.75"/><circle cx="480.7" cy="425.6" r="1.75"/><circle cx="486.2" cy="427.2" r="1.75"/></g>
<path d="M409.2 428.2L414.7 423.8L420.2 426.9L425.7 426.9L431.2 426.2L436.7 432.5L442.2 430.6L447.7 431.2L453.2 428.8L458.7 434.4L464.2 424.4L469.7 433.1L475.2 433.1L480.7 435.9L486.2 435.3L491.7 440.0L497.2 435.9L502.7 444.7L508.2 430.6L513.7 444.7" stroke="#8c8c8c" stroke-width="0.8" fill="none" stroke-opacity="0.85"/>
<g fill="#8c8c8c"><circle cx="409.2" cy="428.2" r="1.75"/><circle cx="414.7" cy="423.8" r="1.75"/><circle cx="420.2" cy="426.9" r="1.75"/><circle cx="425.7" cy="426.9" r="1.75"/><circle cx="431.2" cy="426.2" r="1.75"/><circle cx="436.7" cy="432.5" r="1.75"/><circle cx="442.2" cy="430.6" r="1.75"/><circle cx="447.7" cy="431.2" r="1.75"/><circle cx="453.2" cy="428.8" r="1.75"/><circle cx="458.7" cy="434.4" r="1.75"/><circle cx="464.2" cy="424.4" r="1.75"/><circle cx="469.7" cy="433.1" r="1.75"/><circle cx="475.2" cy="433.1" r="1.75"/><circle cx="480.7" cy="435.9" r="1.75"/><circle cx="486.2" cy="435.3" r="1.75"/><circle cx="491.7" cy="440.0" r="1.75"/><circle cx="497.2" cy="435.9" r="1.75"/><circle cx="502.7" cy="444.7" r="1.75"/><circle cx="508.2" cy="430.6" r="1.75"/><circle cx="513.7" cy="444.7" r="1.75"/></g>
<path d="M436.7 438.8L442.2 444.1L447.7 443.8L453.2 443.4L458.7 436.6L464.2 435.3L469.7 442.2L475.2 441.6L480.7 435.9L486.2 438.4L491.7 440.9L497.2 445.9L502.7 442.8L508.2 441.2L513.7 443.4L519.1 451.2L524.6 453.8L530.1 448.1L535.6 449.4L541.1 453.1" stroke="#8b4513" stroke-width="0.8" fill="none" stroke-opacity="0.85"/>
<g fill="#8b4513"><circle cx="436.7" cy="438.8" r="1.75"/><circle cx="442.2" cy="444.1" r="1.75"/><circle cx="447.7" cy="443.8" r="1.75"/><circle cx="453.2" cy="443.4" r="1.75"/><circle cx="458.7" cy="436.6" r="1.75"/><circle cx="464.2" cy="435.3" r="1.75"/><circle cx="469.7" cy="442.2" r="1.75"/><circle cx="475.2" cy="441.6" r="1.75"/><circle cx="480.7" cy="435.9" r="1.75"/><circle cx="486.2" cy="438.4" r="1.75"/><circle cx="491.7" cy="440.9" r="1.75"/><circle cx="497.2" cy="445.9" r="1.75"/><circle cx="502.7" cy="442.8" r="1.75"/><circle cx="508.2" cy="441.2" r="1.75"/><circle cx="513.7" cy="443.4" r="1.75"/><circle cx="519.1" cy="451.2" r="1.75"/><circle cx="524.6" cy="453.8" r="1.75"/><circle cx="530.1" cy="448.1" r="1.75"/><circle cx="535.6" cy="449.4" r="1.75"/><circle cx="541.1" cy="453.1" r="1.75"/></g>
<path d="M464.2 453.1L469.7 458.1L475.2 451.2L480.7 451.9L486.2 446.6L491.7 456.2L497.2 451.9L502.7 449.7L508.2 463.1L513.7 458.1L519.1 446.9L524.6 451.2L530.1 458.8L535.6 458.4L541.1 455.6L546.6 458.8L552.1 461.9L557.6 469.1L563.1 462.6L568.6 462.6" stroke="#1e90ff" stroke-width="0.8" fill="none" stroke-opacity="0.85"/>
<g fill="#1e90ff"><circle cx="464.2" cy="453.1" r="1.75"/><circle cx="469.7" cy="458.1" r="1.75"/><circle cx="475.2" cy="451.2" r="1.75"/><circle cx="480.7" cy="451.9" r="1.75"/><circle cx="486.2" cy="446.6" r="1.75"/><circle cx="491.7" cy="456.2" r="1.75"/><circle cx="497.2" cy="451.9" r="1.75"/><circle cx="502.7" cy="449.7" r="1.75"/><circle cx="508.2" cy="463.1" r="1.75"/><circle cx="513.7" cy="458.1" r="1.75"/><circle cx="519.1" cy="446.9" r="1.75"/><circle cx="524.6" cy="451.2" r="1.75"/><circle cx="530.1" cy="458.8" r="1.75"/><circle cx="535.6" cy="458.4" r="1.75"/><circle cx="541.1" cy="455.6" r="1.75"/><circle cx="546.6" cy="458.8" r="1.75"/><circle cx="552.1" cy="461.9" r="1.75"/><circle cx="557.6" cy="469.1" r="1.75"/><circle cx="563.1" cy="462.6" r="1.75"/><circle cx="568.6" cy="462.6" r="1.75"/></g>
<path d="M491.7 467.2L497.2 473.4L502.7 467.1L508.2 460.3L513.7 462.5L519.1 470.8L524.6 469.0L530.1 462.2L535.6 471.0L541.1 463.4L546.6 470.8L552.1 469.2L557.6 472.8L563.1 478.1L568.6 475.2L574.1 472.8L579.6 493.2L585.1 477.3L590.6 482.6L596.1 477.5" stroke="#3de585" stroke-width="0.8" fill="none" stroke-opacity="0.85"/>
<g fill="#3de585"><circle cx="491.7" cy="467.2" r="1.75"/><circle cx="497.2" cy="473.4" r="1.75"/><circle cx="502.7" cy="467.1" r="1.75"/><circle cx="508.2" cy="460.3" r="1.75"/><circle cx="513.7" cy="462.5" r="1.75"/><circle cx="519.1" cy="470.8" r="1.75"/><circle cx="524.6" cy="469.0" r="1.75"/><circle cx="530.1" cy="462.2" r="1.75"/><circle cx="535.6" cy="471.0" r="1.75"/><circle cx="541.1" cy="463.4" r="1.75"/><circle cx="546.6" cy="470.8" r="1.75"/><circle cx="552.1" cy="469.2" r="1.75"/><circle cx="557.6" cy="472.8" r="1.75"/><circle cx="563.1" cy="478.1" r="1.75"/><circle cx="568.6" cy="475.2" r="1.75"/><circle cx="574.1" cy="472.8" r="1.75"/><circle cx="579.6" cy="493.2" r="1.75"/><circle cx="585.1" cy="477.3" r="1.75"/><circle cx="590.6" cy="482.6" r="1.75"/><circle cx="596.1" cy="477.5" r="1.75"/></g>
<path d="M519.1 501.4L524.6 480.2L530.1 469.7L535.6 473.5L541.1 475.5L546.6 484.3L552.1 488.1L557.6 483.4L563.1 477.4L568.6 487.7L574.1 477.3L579.6 479.8L585.1 483.8L590.6 480.1L596.1 513.8L601.6 480.6L607.1 484.3L612.6 494.4L618.1 485.5L623.6 502.7" stroke="#0000cd" stroke-width="0.8" fill="none" stroke-opacity="0.85"/>
<g fill="#0000cd"><circle cx="519.1" cy="501.4" r="1.75"/><circle cx="524.6" cy="480.2" r="1.75"/><circle cx="530.1" cy="469.7" r="1.75"/><circle cx="535.6" cy="473.5" r="1.75"/><circle cx="541.1" cy="475.5" r="1.75"/><circle cx="546.6" cy="484.3" r="1.75"/><circle cx="552.1" cy="488.1" r="1.75"/><circle cx="557.6" cy="483.4" r="1.75"/><circle cx="563.1" cy="477.4" r="1.75"/><circle cx="568.6" cy="487.7" r="1.75"/><circle cx="574.1" cy="477.3" r="1.75"/><circle cx="579.6" cy="479.8" r="1.75"/><circle cx="585.1" cy="483.8" r="1.75"/><circle cx="590.6" cy="480.1" r="1.75"/><circle cx="596.1" cy="513.8" r="1.75"/><circle cx="601.6" cy="480.6" r="1.75"/><circle cx="607.1" cy="484.3" r="1.75"/><circle cx="612.6" cy="494.4" r="1.75"/><circle cx="618.1" cy="485.5" r="1.75"/><circle cx="623.6" cy="502.7" r="1.75"/></g>
<path d="M546.6 484.7L552.1 501.4L557.6 494.0L563.1 514.2L568.6 493.4L574.1 493.4L579.6 493.2L585.1 483.0L590.6 492.9L596.1 487.5L601.6 493.5L607.1 494.0L612.6 515.1L618.1 502.5L623.6 495.1L629.1 490.2M640.0 515.5L645.5 494.0L651.0 514.3" stroke="#ffb414" stroke-width="0.8" fill="none" stroke-opacity="0.85"/>
<g fill="#ffb414"><circle cx="546.6" cy="484.7" r="1.75"/><circle cx="552.1" cy="501.4" r="1.75"/><circle cx="557.6" cy="494.0" r="1.75"/><circle cx="563.1" cy="514.2" r="1.75"/><circle cx="568.6" cy="493.4" r="1.75"/><circle cx="574.1" cy="493.4" r="1.75"/><circle cx="579.6" cy="493.2" r="1.75"/><circle cx="585.1" cy="483.0" r="1.75"/><circle cx="590.6" cy="492.9" r="1.75"/><circle cx="596.1" cy="487.5" r="1.75"/><circle cx="601.6" cy="493.5" r="1.75"/><circle cx="607.1" cy="494.0" r="1.75"/><circle cx="612.6" cy="515.1" r="1.75"/><circle cx="618.1" cy="502.5" r="1.75"/><circle cx="623.6" cy="495.1" r="1.75"/><circle cx="629.1" cy="490.2" r="1.75"/><circle cx="640.0" cy="515.5" r="1.75"/><circle cx="645.5" cy="494.0" r="1.75"/><circle cx="651.0" cy="514.3" r="1.75"/></g>
<path d="M574.1 513.8L579.6 492.5L585.1 486.8M623.6 494.5L629.1 515.6M667.5 490.7L673.0 511.2L678.5 511.4" stroke="#000000" stroke-width="0.8" fill="none" stroke-opacity="0.85"/>
<g fill="#000000"><circle cx="574.1" cy="513.8" r="1.75"/><circle cx="579.6" cy="492.5" r="1.75"/><circle cx="585.1" cy="486.8" r="1.75"/><circle cx="623.6" cy="494.5" r="1.75"/><circle cx="629.1" cy="515.6" r="1.75"/><circle cx="640.0" cy="515.5" r="1.75"/><circle cx="651.0" cy="514.2" r="1.75"/><circle cx="667.5" cy="490.7" r="1.75"/><circle cx="673.0" cy="511.2" r="1.75"/><circle cx="678.5" cy="511.4" r="1.75"/></g>
</svg></body></html>
